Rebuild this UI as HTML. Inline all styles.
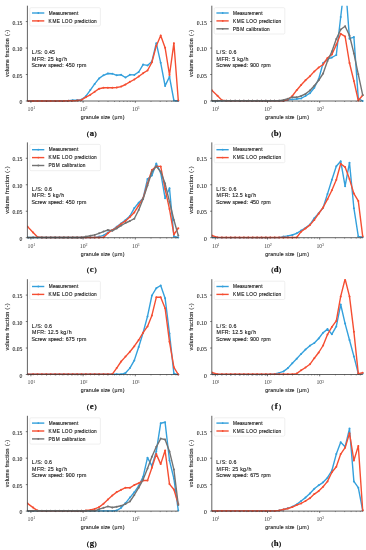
<!DOCTYPE html>
<html><head><meta charset="utf-8"><style>
html,body{margin:0;padding:0;background:#fff;width:366px;height:550px;overflow:hidden}
svg{display:block;will-change:transform}
text{font-family:"Liberation Sans",sans-serif;fill:#222}
.lg,.an,.xl,.yl{stroke:#222;stroke-width:0.15px}
.cap{stroke:#111;stroke-width:0.2px}
.yt{font-family:"Liberation Serif",serif;font-size:5.7px;text-anchor:end;fill:#2a2a2a;stroke:#2a2a2a;stroke-width:0.1px}
.xt{font-family:"Liberation Serif",serif;font-size:5.8px;text-anchor:middle;fill:#444}
.sup{font-size:4.0px}
.xl{fill:#333}
.yl{fill:#333}
.lg{fill:#222}
.an{fill:#222}
.cap{font-family:"Liberation Serif",serif;font-weight:bold;font-size:7.2px;text-anchor:middle;fill:#111}
</style></head><body>
<svg width="366" height="550" viewBox="0 0 366 550">
<clipPath id="ca"><rect x="27.4" y="5.7" width="152.9" height="98.3"/></clipPath>
<g clip-path="url(#ca)"><polyline points="27.4,101 33.1,101 37.5,101 41.9,101 46.3,101 50.7,101 55.1,101 59.5,101 63.9,101 68.3,100.7 72.7,100.3 77.1,100 81.5,99.6 85.9,96.2 90.3,90.1 94.7,83.9 99.1,78.4 103.5,75.3 107.9,73.5 112.3,73.7 116.7,75.3 121.1,74.8 125.5,77.5 129.9,74.8 134.3,74.9 138.7,72 143.1,64.6 147.5,65.4 151.9,61.4 156.3,43.2 160.7,62.8 165.1,85.9 169.5,76.8 173.9,100.5 178.3,101" fill="none" stroke="#34a0dc" stroke-width="1.4" stroke-linejoin="round"/>
<circle cx="27.4" cy="101" r="1.0" fill="#34a0dc"/><circle cx="33.1" cy="101" r="1.0" fill="#34a0dc"/><circle cx="37.5" cy="101" r="1.0" fill="#34a0dc"/><circle cx="41.9" cy="101" r="1.0" fill="#34a0dc"/><circle cx="46.3" cy="101" r="1.0" fill="#34a0dc"/><circle cx="50.7" cy="101" r="1.0" fill="#34a0dc"/><circle cx="55.1" cy="101" r="1.0" fill="#34a0dc"/><circle cx="59.5" cy="101" r="1.0" fill="#34a0dc"/><circle cx="63.9" cy="101" r="1.0" fill="#34a0dc"/><circle cx="68.3" cy="100.7" r="1.0" fill="#34a0dc"/><circle cx="72.7" cy="100.3" r="1.0" fill="#34a0dc"/><circle cx="77.1" cy="100" r="1.0" fill="#34a0dc"/><circle cx="81.5" cy="99.6" r="1.0" fill="#34a0dc"/><circle cx="85.9" cy="96.2" r="1.0" fill="#34a0dc"/><circle cx="90.3" cy="90.1" r="1.0" fill="#34a0dc"/><circle cx="94.7" cy="83.9" r="1.0" fill="#34a0dc"/><circle cx="99.1" cy="78.4" r="1.0" fill="#34a0dc"/><circle cx="103.5" cy="75.3" r="1.0" fill="#34a0dc"/><circle cx="107.9" cy="73.5" r="1.0" fill="#34a0dc"/><circle cx="112.3" cy="73.7" r="1.0" fill="#34a0dc"/><circle cx="116.7" cy="75.3" r="1.0" fill="#34a0dc"/><circle cx="121.1" cy="74.8" r="1.0" fill="#34a0dc"/><circle cx="125.5" cy="77.5" r="1.0" fill="#34a0dc"/><circle cx="129.9" cy="74.8" r="1.0" fill="#34a0dc"/><circle cx="134.3" cy="74.9" r="1.0" fill="#34a0dc"/><circle cx="138.7" cy="72" r="1.0" fill="#34a0dc"/><circle cx="143.1" cy="64.6" r="1.0" fill="#34a0dc"/><circle cx="147.5" cy="65.4" r="1.0" fill="#34a0dc"/><circle cx="151.9" cy="61.4" r="1.0" fill="#34a0dc"/><circle cx="156.3" cy="43.2" r="1.0" fill="#34a0dc"/><circle cx="160.7" cy="62.8" r="1.0" fill="#34a0dc"/><circle cx="165.1" cy="85.9" r="1.0" fill="#34a0dc"/><circle cx="169.5" cy="76.8" r="1.0" fill="#34a0dc"/><circle cx="173.9" cy="100.5" r="1.0" fill="#34a0dc"/><circle cx="178.3" cy="101" r="1.0" fill="#34a0dc"/></g>
<g clip-path="url(#ca)"><polyline points="27.4,101 33.1,101 37.5,101 41.9,101 46.3,101 50.7,101 55.1,101 59.5,101 63.9,101 68.3,100.8 72.7,100.7 77.1,100.5 81.5,99.9 85.9,97.2 90.3,94.8 94.7,91.7 99.1,88.7 103.5,87.7 107.9,87.7 112.3,87.7 116.7,87.5 121.1,86.6 125.5,84.5 129.9,81.8 134.3,79.5 138.7,76.5 143.1,73.2 147.5,70.5 151.9,62.3 156.3,45.9 160.7,35.5 165.1,47.7 169.5,75 173.9,43.2 178.3,100.5" fill="none" stroke="#f54e32" stroke-width="1.4" stroke-linejoin="round"/>
<circle cx="27.4" cy="101" r="1.0" fill="#f54e32"/><circle cx="33.1" cy="101" r="1.0" fill="#f54e32"/><circle cx="37.5" cy="101" r="1.0" fill="#f54e32"/><circle cx="41.9" cy="101" r="1.0" fill="#f54e32"/><circle cx="46.3" cy="101" r="1.0" fill="#f54e32"/><circle cx="50.7" cy="101" r="1.0" fill="#f54e32"/><circle cx="55.1" cy="101" r="1.0" fill="#f54e32"/><circle cx="59.5" cy="101" r="1.0" fill="#f54e32"/><circle cx="63.9" cy="101" r="1.0" fill="#f54e32"/><circle cx="68.3" cy="100.8" r="1.0" fill="#f54e32"/><circle cx="72.7" cy="100.7" r="1.0" fill="#f54e32"/><circle cx="77.1" cy="100.5" r="1.0" fill="#f54e32"/><circle cx="81.5" cy="99.9" r="1.0" fill="#f54e32"/><circle cx="85.9" cy="97.2" r="1.0" fill="#f54e32"/><circle cx="90.3" cy="94.8" r="1.0" fill="#f54e32"/><circle cx="94.7" cy="91.7" r="1.0" fill="#f54e32"/><circle cx="99.1" cy="88.7" r="1.0" fill="#f54e32"/><circle cx="103.5" cy="87.7" r="1.0" fill="#f54e32"/><circle cx="107.9" cy="87.7" r="1.0" fill="#f54e32"/><circle cx="112.3" cy="87.7" r="1.0" fill="#f54e32"/><circle cx="116.7" cy="87.5" r="1.0" fill="#f54e32"/><circle cx="121.1" cy="86.6" r="1.0" fill="#f54e32"/><circle cx="125.5" cy="84.5" r="1.0" fill="#f54e32"/><circle cx="129.9" cy="81.8" r="1.0" fill="#f54e32"/><circle cx="134.3" cy="79.5" r="1.0" fill="#f54e32"/><circle cx="138.7" cy="76.5" r="1.0" fill="#f54e32"/><circle cx="143.1" cy="73.2" r="1.0" fill="#f54e32"/><circle cx="147.5" cy="70.5" r="1.0" fill="#f54e32"/><circle cx="151.9" cy="62.3" r="1.0" fill="#f54e32"/><circle cx="156.3" cy="45.9" r="1.0" fill="#f54e32"/><circle cx="160.7" cy="35.5" r="1.0" fill="#f54e32"/><circle cx="165.1" cy="47.7" r="1.0" fill="#f54e32"/><circle cx="169.5" cy="75" r="1.0" fill="#f54e32"/><circle cx="173.9" cy="43.2" r="1.0" fill="#f54e32"/><circle cx="178.3" cy="100.5" r="1.0" fill="#f54e32"/></g>
<path d="M27.4 5.7V101H178.3" fill="none" stroke="#3a3a3a" stroke-width="0.8"/>
<path d="M25.8 101H27.4" stroke="#3a3a3a" stroke-width="0.7"/>
<text x="22.4" y="104" class="yt">0</text>
<path d="M25.8 74.53H27.4" stroke="#3a3a3a" stroke-width="0.7"/>
<text x="22.4" y="77.53" class="yt">0.05</text>
<path d="M25.8 48.06H27.4" stroke="#3a3a3a" stroke-width="0.7"/>
<text x="22.4" y="51.06" class="yt">0.10</text>
<path d="M25.8 21.58H27.4" stroke="#3a3a3a" stroke-width="0.7"/>
<text x="22.4" y="24.58" class="yt">0.15</text>
<path d="M30.9 101V102.8" stroke="#3a3a3a" stroke-width="0.7"/>
<text x="31.4" y="110.9" class="xt">10<tspan dy="-1.7" dx="-0.2" class="sup">1</tspan></text>
<path d="M83.1 101V102.8" stroke="#3a3a3a" stroke-width="0.7"/>
<text x="83.6" y="110.9" class="xt">10<tspan dy="-1.7" dx="-0.2" class="sup">2</tspan></text>
<path d="M135.3 101V102.8" stroke="#3a3a3a" stroke-width="0.7"/>
<text x="135.8" y="110.9" class="xt">10<tspan dy="-1.7" dx="-0.2" class="sup">3</tspan></text>
<path d="M28.51 101V102" stroke="#3a3a3a" stroke-width="0.5"/>
<path d="M46.61 101V102" stroke="#3a3a3a" stroke-width="0.5"/>
<path d="M55.81 101V102" stroke="#3a3a3a" stroke-width="0.5"/>
<path d="M62.33 101V102" stroke="#3a3a3a" stroke-width="0.5"/>
<path d="M67.39 101V102" stroke="#3a3a3a" stroke-width="0.5"/>
<path d="M71.52 101V102" stroke="#3a3a3a" stroke-width="0.5"/>
<path d="M75.01 101V102" stroke="#3a3a3a" stroke-width="0.5"/>
<path d="M78.04 101V102" stroke="#3a3a3a" stroke-width="0.5"/>
<path d="M80.71 101V102" stroke="#3a3a3a" stroke-width="0.5"/>
<path d="M98.81 101V102" stroke="#3a3a3a" stroke-width="0.5"/>
<path d="M108.01 101V102" stroke="#3a3a3a" stroke-width="0.5"/>
<path d="M114.53 101V102" stroke="#3a3a3a" stroke-width="0.5"/>
<path d="M119.59 101V102" stroke="#3a3a3a" stroke-width="0.5"/>
<path d="M123.72 101V102" stroke="#3a3a3a" stroke-width="0.5"/>
<path d="M127.21 101V102" stroke="#3a3a3a" stroke-width="0.5"/>
<path d="M130.24 101V102" stroke="#3a3a3a" stroke-width="0.5"/>
<path d="M132.91 101V102" stroke="#3a3a3a" stroke-width="0.5"/>
<path d="M151.01 101V102" stroke="#3a3a3a" stroke-width="0.5"/>
<path d="M160.21 101V102" stroke="#3a3a3a" stroke-width="0.5"/>
<path d="M166.73 101V102" stroke="#3a3a3a" stroke-width="0.5"/>
<path d="M171.79 101V102" stroke="#3a3a3a" stroke-width="0.5"/>
<path d="M175.92 101V102" stroke="#3a3a3a" stroke-width="0.5"/>
<text transform="translate(102.8,118.8) scale(0.88,1.0)" x="-24.98 -21.44 -19.31 -15.9 -12.38 -8.8 -7.47 -3.99 -2.22 0.74 2.2 5.03 8.51 10.81 13.32 17.16 22.69" y="0" class="xl" style="font-size:6.0px">granule size (µm)</text>
<text transform="translate(8.9,53.35) rotate(-90) scale(0.88,1.0)" x="-26.94 -23.83 -20.31 -18.73 -15.09 -10.04 -6.56 -4.38 -2.34 -0.2 3.12 6.53 8.75 10.26 13.73 17.46 19.76 22.22 24.68" y="0" class="yl" style="font-size:6.0px">volume fraction (-)</text>
<text transform="translate(31.7,54.1) scale(0.88,1.0)" x="0.16 4.25 6.38 10.37 12.44 14.42 17.88 19.68 23.06" y="0" class="an" style="font-size:6.0px">L/S: 0.45</text>
<text transform="translate(31.7,60.72) scale(0.88,1.0)" x="0.46 6.01 9.78 14.24 16.3 18.28 21.67 25.32 27.43 30.6 34.55 36.88" y="0" class="an" style="font-size:6.0px">MFR: 25 kg/h</text>
<text transform="translate(31.7,67.34) scale(0.88,1.0)" x="-0.12 3.76 6.92 8.91 12.22 16.99 18.74 21.61 24.86 27.87 31.11 34.64 36.7 38.68 42.06 45.44 49.1 51.21 53.45 57.05" y="0" class="an" style="font-size:6.0px">Screw speed: 450 rpm</text>
<rect x="29.8" y="7.7" width="70.6" height="18.3" rx="1.2" fill="#fff" fill-opacity="0.8" stroke="#e4e4e4" stroke-width="0.6"/>
<path d="M32 13H44.3" stroke="#34a0dc" stroke-width="1.4"/>
<circle cx="38.3" cy="13" r="0.9" fill="#34a0dc"/>
<text transform="translate(48.3,14.75) scale(0.88,1.0)" x="0.44 5.23 8.07 10.87 13.48 16.72 18.53 21.58 26.12 29.07 32.52" y="0" class="lg" style="font-size:5.4px">Measurement</text>
<path d="M32 20.9H44.3" stroke="#f54e32" stroke-width="1.4"/>
<circle cx="38.3" cy="20.9" r="0.9" fill="#f54e32"/>
<text transform="translate(48.3,22.65) scale(0.88,1.0)" x="0.33 4.69 9.66 13.56 15.5 18.82 23.34 27.96 29.82 33.06 34.87 37.82 41.04 42.38 45.45 47.44 48.81 51.93" y="0" class="lg" style="font-size:5.4px">KME LOO prediction</text>
<text x="87.9" y="135.6" class="cap" style="font-size:6.6px">(</text><text transform="translate(91.8,135.6) scale(1.2,1)" class="cap" style="font-size:7.25px">a</text><text x="95.7" y="135.6" class="cap" style="font-size:6.6px">)</text>
<clipPath id="cb"><rect x="211.8" y="5.7" width="152.9" height="98.3"/></clipPath>
<g clip-path="url(#cb)"><polyline points="211.8,100.8 217.5,100.8 221.9,100.8 226.3,100.8 230.7,100.8 235.1,100.8 239.5,100.8 243.9,100.8 248.3,100.8 252.7,100.8 257.1,100.8 261.5,100.8 265.9,100.8 270.3,100.8 274.7,100.8 279.1,100.8 283.5,100.8 287.9,99.9 292.3,99.4 296.7,99 301.1,98.4 305.5,96 309.9,93.2 314.3,87.8 318.7,79 323.1,63 327.5,59.2 331.9,57.5 336.3,55 340.7,17 345.1,-20 349.5,38.7 353.9,37.1 358.3,98.5 362.7,101" fill="none" stroke="#34a0dc" stroke-width="1.4" stroke-linejoin="round"/>
<circle cx="211.8" cy="100.8" r="1.0" fill="#34a0dc"/><circle cx="217.5" cy="100.8" r="1.0" fill="#34a0dc"/><circle cx="221.9" cy="100.8" r="1.0" fill="#34a0dc"/><circle cx="226.3" cy="100.8" r="1.0" fill="#34a0dc"/><circle cx="230.7" cy="100.8" r="1.0" fill="#34a0dc"/><circle cx="235.1" cy="100.8" r="1.0" fill="#34a0dc"/><circle cx="239.5" cy="100.8" r="1.0" fill="#34a0dc"/><circle cx="243.9" cy="100.8" r="1.0" fill="#34a0dc"/><circle cx="248.3" cy="100.8" r="1.0" fill="#34a0dc"/><circle cx="252.7" cy="100.8" r="1.0" fill="#34a0dc"/><circle cx="257.1" cy="100.8" r="1.0" fill="#34a0dc"/><circle cx="261.5" cy="100.8" r="1.0" fill="#34a0dc"/><circle cx="265.9" cy="100.8" r="1.0" fill="#34a0dc"/><circle cx="270.3" cy="100.8" r="1.0" fill="#34a0dc"/><circle cx="274.7" cy="100.8" r="1.0" fill="#34a0dc"/><circle cx="279.1" cy="100.8" r="1.0" fill="#34a0dc"/><circle cx="283.5" cy="100.8" r="1.0" fill="#34a0dc"/><circle cx="287.9" cy="99.9" r="1.0" fill="#34a0dc"/><circle cx="292.3" cy="99.4" r="1.0" fill="#34a0dc"/><circle cx="296.7" cy="99" r="1.0" fill="#34a0dc"/><circle cx="301.1" cy="98.4" r="1.0" fill="#34a0dc"/><circle cx="305.5" cy="96" r="1.0" fill="#34a0dc"/><circle cx="309.9" cy="93.2" r="1.0" fill="#34a0dc"/><circle cx="314.3" cy="87.8" r="1.0" fill="#34a0dc"/><circle cx="318.7" cy="79" r="1.0" fill="#34a0dc"/><circle cx="323.1" cy="63" r="1.0" fill="#34a0dc"/><circle cx="327.5" cy="59.2" r="1.0" fill="#34a0dc"/><circle cx="331.9" cy="57.5" r="1.0" fill="#34a0dc"/><circle cx="336.3" cy="55" r="1.0" fill="#34a0dc"/><circle cx="340.7" cy="17" r="1.0" fill="#34a0dc"/><circle cx="345.1" cy="-20" r="1.0" fill="#34a0dc"/><circle cx="349.5" cy="38.7" r="1.0" fill="#34a0dc"/><circle cx="353.9" cy="37.1" r="1.0" fill="#34a0dc"/><circle cx="358.3" cy="98.5" r="1.0" fill="#34a0dc"/><circle cx="362.7" cy="101" r="1.0" fill="#34a0dc"/></g>
<g clip-path="url(#cb)"><polyline points="211.8,90.2 217.5,95.7 221.9,100.2 226.3,100.8 230.7,100.8 235.1,100.8 239.5,100.8 243.9,100.8 248.3,100.8 252.7,100.8 257.1,100.8 261.5,100.8 265.9,100.8 270.3,100.8 274.7,100.8 279.1,100.8 283.5,100.7 287.9,99.5 292.3,96 296.7,90.2 301.1,85 305.5,80.3 309.9,76.2 314.3,71.4 318.7,67.5 323.1,64.5 327.5,58 331.9,54.4 336.3,44.8 340.7,33.8 345.1,36.4 349.5,63 353.9,81 358.3,100.5 362.7,95.2" fill="none" stroke="#f54e32" stroke-width="1.4" stroke-linejoin="round"/>
<circle cx="211.8" cy="90.2" r="1.0" fill="#f54e32"/><circle cx="217.5" cy="95.7" r="1.0" fill="#f54e32"/><circle cx="221.9" cy="100.2" r="1.0" fill="#f54e32"/><circle cx="226.3" cy="100.8" r="1.0" fill="#f54e32"/><circle cx="230.7" cy="100.8" r="1.0" fill="#f54e32"/><circle cx="235.1" cy="100.8" r="1.0" fill="#f54e32"/><circle cx="239.5" cy="100.8" r="1.0" fill="#f54e32"/><circle cx="243.9" cy="100.8" r="1.0" fill="#f54e32"/><circle cx="248.3" cy="100.8" r="1.0" fill="#f54e32"/><circle cx="252.7" cy="100.8" r="1.0" fill="#f54e32"/><circle cx="257.1" cy="100.8" r="1.0" fill="#f54e32"/><circle cx="261.5" cy="100.8" r="1.0" fill="#f54e32"/><circle cx="265.9" cy="100.8" r="1.0" fill="#f54e32"/><circle cx="270.3" cy="100.8" r="1.0" fill="#f54e32"/><circle cx="274.7" cy="100.8" r="1.0" fill="#f54e32"/><circle cx="279.1" cy="100.8" r="1.0" fill="#f54e32"/><circle cx="283.5" cy="100.7" r="1.0" fill="#f54e32"/><circle cx="287.9" cy="99.5" r="1.0" fill="#f54e32"/><circle cx="292.3" cy="96" r="1.0" fill="#f54e32"/><circle cx="296.7" cy="90.2" r="1.0" fill="#f54e32"/><circle cx="301.1" cy="85" r="1.0" fill="#f54e32"/><circle cx="305.5" cy="80.3" r="1.0" fill="#f54e32"/><circle cx="309.9" cy="76.2" r="1.0" fill="#f54e32"/><circle cx="314.3" cy="71.4" r="1.0" fill="#f54e32"/><circle cx="318.7" cy="67.5" r="1.0" fill="#f54e32"/><circle cx="323.1" cy="64.5" r="1.0" fill="#f54e32"/><circle cx="327.5" cy="58" r="1.0" fill="#f54e32"/><circle cx="331.9" cy="54.4" r="1.0" fill="#f54e32"/><circle cx="336.3" cy="44.8" r="1.0" fill="#f54e32"/><circle cx="340.7" cy="33.8" r="1.0" fill="#f54e32"/><circle cx="345.1" cy="36.4" r="1.0" fill="#f54e32"/><circle cx="349.5" cy="63" r="1.0" fill="#f54e32"/><circle cx="353.9" cy="81" r="1.0" fill="#f54e32"/><circle cx="358.3" cy="100.5" r="1.0" fill="#f54e32"/><circle cx="362.7" cy="95.2" r="1.0" fill="#f54e32"/></g>
<g clip-path="url(#cb)"><polyline points="211.8,100.8 217.5,100.8 221.9,100.8 226.3,100.8 230.7,100.8 235.1,100.8 239.5,100.8 243.9,100.8 248.3,100.8 252.7,100.8 257.1,100.8 261.5,100.8 265.9,100.8 270.3,100.8 274.7,100.8 279.1,100.8 283.5,100 287.9,98.7 292.3,97.3 296.7,97.3 301.1,96 305.5,93.9 309.9,90.5 314.3,85.7 318.7,80.3 323.1,73.5 327.5,61 331.9,51.5 336.3,39 340.7,29.5 345.1,26.2 349.5,35.5 353.9,53.4 358.3,74.3 362.7,95.2" fill="none" stroke="#737373" stroke-width="1.4" stroke-linejoin="round"/>
<circle cx="211.8" cy="100.8" r="1.0" fill="#737373"/><circle cx="217.5" cy="100.8" r="1.0" fill="#737373"/><circle cx="221.9" cy="100.8" r="1.0" fill="#737373"/><circle cx="226.3" cy="100.8" r="1.0" fill="#737373"/><circle cx="230.7" cy="100.8" r="1.0" fill="#737373"/><circle cx="235.1" cy="100.8" r="1.0" fill="#737373"/><circle cx="239.5" cy="100.8" r="1.0" fill="#737373"/><circle cx="243.9" cy="100.8" r="1.0" fill="#737373"/><circle cx="248.3" cy="100.8" r="1.0" fill="#737373"/><circle cx="252.7" cy="100.8" r="1.0" fill="#737373"/><circle cx="257.1" cy="100.8" r="1.0" fill="#737373"/><circle cx="261.5" cy="100.8" r="1.0" fill="#737373"/><circle cx="265.9" cy="100.8" r="1.0" fill="#737373"/><circle cx="270.3" cy="100.8" r="1.0" fill="#737373"/><circle cx="274.7" cy="100.8" r="1.0" fill="#737373"/><circle cx="279.1" cy="100.8" r="1.0" fill="#737373"/><circle cx="283.5" cy="100" r="1.0" fill="#737373"/><circle cx="287.9" cy="98.7" r="1.0" fill="#737373"/><circle cx="292.3" cy="97.3" r="1.0" fill="#737373"/><circle cx="296.7" cy="97.3" r="1.0" fill="#737373"/><circle cx="301.1" cy="96" r="1.0" fill="#737373"/><circle cx="305.5" cy="93.9" r="1.0" fill="#737373"/><circle cx="309.9" cy="90.5" r="1.0" fill="#737373"/><circle cx="314.3" cy="85.7" r="1.0" fill="#737373"/><circle cx="318.7" cy="80.3" r="1.0" fill="#737373"/><circle cx="323.1" cy="73.5" r="1.0" fill="#737373"/><circle cx="327.5" cy="61" r="1.0" fill="#737373"/><circle cx="331.9" cy="51.5" r="1.0" fill="#737373"/><circle cx="336.3" cy="39" r="1.0" fill="#737373"/><circle cx="340.7" cy="29.5" r="1.0" fill="#737373"/><circle cx="345.1" cy="26.2" r="1.0" fill="#737373"/><circle cx="349.5" cy="35.5" r="1.0" fill="#737373"/><circle cx="353.9" cy="53.4" r="1.0" fill="#737373"/><circle cx="358.3" cy="74.3" r="1.0" fill="#737373"/><circle cx="362.7" cy="95.2" r="1.0" fill="#737373"/></g>
<path d="M211.8 5.7V101H362.7" fill="none" stroke="#3a3a3a" stroke-width="0.8"/>
<path d="M210.2 101H211.8" stroke="#3a3a3a" stroke-width="0.7"/>
<text x="206.8" y="104" class="yt">0</text>
<path d="M210.2 74.53H211.8" stroke="#3a3a3a" stroke-width="0.7"/>
<text x="206.8" y="77.53" class="yt">0.05</text>
<path d="M210.2 48.06H211.8" stroke="#3a3a3a" stroke-width="0.7"/>
<text x="206.8" y="51.06" class="yt">0.10</text>
<path d="M210.2 21.58H211.8" stroke="#3a3a3a" stroke-width="0.7"/>
<text x="206.8" y="24.58" class="yt">0.15</text>
<path d="M215.3 101V102.8" stroke="#3a3a3a" stroke-width="0.7"/>
<text x="215.8" y="110.9" class="xt">10<tspan dy="-1.7" dx="-0.2" class="sup">1</tspan></text>
<path d="M267.5 101V102.8" stroke="#3a3a3a" stroke-width="0.7"/>
<text x="268" y="110.9" class="xt">10<tspan dy="-1.7" dx="-0.2" class="sup">2</tspan></text>
<path d="M319.7 101V102.8" stroke="#3a3a3a" stroke-width="0.7"/>
<text x="320.2" y="110.9" class="xt">10<tspan dy="-1.7" dx="-0.2" class="sup">3</tspan></text>
<path d="M212.91 101V102" stroke="#3a3a3a" stroke-width="0.5"/>
<path d="M231.01 101V102" stroke="#3a3a3a" stroke-width="0.5"/>
<path d="M240.21 101V102" stroke="#3a3a3a" stroke-width="0.5"/>
<path d="M246.73 101V102" stroke="#3a3a3a" stroke-width="0.5"/>
<path d="M251.79 101V102" stroke="#3a3a3a" stroke-width="0.5"/>
<path d="M255.92 101V102" stroke="#3a3a3a" stroke-width="0.5"/>
<path d="M259.41 101V102" stroke="#3a3a3a" stroke-width="0.5"/>
<path d="M262.44 101V102" stroke="#3a3a3a" stroke-width="0.5"/>
<path d="M265.11 101V102" stroke="#3a3a3a" stroke-width="0.5"/>
<path d="M283.21 101V102" stroke="#3a3a3a" stroke-width="0.5"/>
<path d="M292.41 101V102" stroke="#3a3a3a" stroke-width="0.5"/>
<path d="M298.93 101V102" stroke="#3a3a3a" stroke-width="0.5"/>
<path d="M303.99 101V102" stroke="#3a3a3a" stroke-width="0.5"/>
<path d="M308.12 101V102" stroke="#3a3a3a" stroke-width="0.5"/>
<path d="M311.61 101V102" stroke="#3a3a3a" stroke-width="0.5"/>
<path d="M314.64 101V102" stroke="#3a3a3a" stroke-width="0.5"/>
<path d="M317.31 101V102" stroke="#3a3a3a" stroke-width="0.5"/>
<path d="M335.41 101V102" stroke="#3a3a3a" stroke-width="0.5"/>
<path d="M344.61 101V102" stroke="#3a3a3a" stroke-width="0.5"/>
<path d="M351.13 101V102" stroke="#3a3a3a" stroke-width="0.5"/>
<path d="M356.19 101V102" stroke="#3a3a3a" stroke-width="0.5"/>
<path d="M360.32 101V102" stroke="#3a3a3a" stroke-width="0.5"/>
<text transform="translate(287.2,118.8) scale(0.88,1.0)" x="-24.98 -21.44 -19.31 -15.9 -12.38 -8.8 -7.47 -3.99 -2.22 0.74 2.2 5.03 8.51 10.81 13.32 17.16 22.69" y="0" class="xl" style="font-size:6.0px">granule size (µm)</text>
<text transform="translate(193.3,53.35) rotate(-90) scale(0.88,1.0)" x="-26.94 -23.83 -20.31 -18.73 -15.09 -10.04 -6.56 -4.38 -2.34 -0.2 3.12 6.53 8.75 10.26 13.73 17.46 19.76 22.22 24.68" y="0" class="yl" style="font-size:6.0px">volume fraction (-)</text>
<text transform="translate(216.1,54.1) scale(0.88,1.0)" x="0.16 4.25 6.38 10.37 12.44 14.42 17.88 19.68" y="0" class="an" style="font-size:6.0px">L/S: 0.6</text>
<text transform="translate(216.1,60.72) scale(0.88,1.0)" x="0.46 6.01 9.78 14.24 16.3 18.28 21.94 24.05 27.22 31.17 33.5" y="0" class="an" style="font-size:6.0px">MFR: 5 kg/h</text>
<text transform="translate(216.1,67.34) scale(0.88,1.0)" x="-0.12 3.76 6.92 8.91 12.22 16.99 18.74 21.61 24.86 27.87 31.11 34.64 36.7 38.68 42.06 45.44 49.1 51.21 53.45 57.05" y="0" class="an" style="font-size:6.0px">Screw speed: 900 rpm</text>
<rect x="214.2" y="7.7" width="70.6" height="26.3" rx="1.2" fill="#fff" fill-opacity="0.8" stroke="#e4e4e4" stroke-width="0.6"/>
<path d="M216.4 13H228.7" stroke="#34a0dc" stroke-width="1.4"/>
<circle cx="222.7" cy="13" r="0.9" fill="#34a0dc"/>
<text transform="translate(232.7,14.75) scale(0.88,1.0)" x="0.44 5.23 8.07 10.87 13.48 16.72 18.53 21.58 26.12 29.07 32.52" y="0" class="lg" style="font-size:5.4px">Measurement</text>
<path d="M216.4 20.9H228.7" stroke="#f54e32" stroke-width="1.4"/>
<circle cx="222.7" cy="20.9" r="0.9" fill="#f54e32"/>
<text transform="translate(232.7,22.65) scale(0.88,1.0)" x="0.33 4.69 9.66 13.56 15.5 18.82 23.34 27.96 29.82 33.06 34.87 37.82 41.04 42.38 45.45 47.44 48.81 51.93" y="0" class="lg" style="font-size:5.4px">KME LOO prediction</text>
<path d="M216.4 28.8H228.7" stroke="#737373" stroke-width="1.4"/>
<circle cx="222.7" cy="28.8" r="0.9" fill="#737373"/>
<text transform="translate(232.7,30.55) scale(0.88,1.0)" x="0.16 4.17 8.45 13.65 15.44 18.13 21.24 22.7 24.12 27.36 29.28 32.62 34.61 35.97 39.09" y="0" class="lg" style="font-size:5.4px">PBM calibration</text>
<text x="272.3" y="135.6" class="cap" style="font-size:6.6px">(</text><text transform="translate(276.2,135.6) scale(1.2,1)" class="cap" style="font-size:7.25px">b</text><text x="280.1" y="135.6" class="cap" style="font-size:6.6px">)</text>
<clipPath id="cc"><rect x="27.4" y="142.4" width="152.9" height="98.3"/></clipPath>
<g clip-path="url(#cc)"><polyline points="27.4,237.5 33.1,237.5 37.5,237.5 41.9,237.5 46.3,237.5 50.7,237.5 55.1,237.5 59.5,237.5 63.9,237.5 68.3,237.5 72.7,237.5 77.1,237.5 81.5,237.5 85.9,237.5 90.3,237.5 94.7,237.5 99.1,236.6 103.5,235.4 107.9,232.5 112.3,230 116.7,226.7 121.1,223.4 125.5,220.1 129.9,216.1 134.3,208.1 138.7,202.7 143.1,198.2 147.5,179.1 151.9,175.5 156.3,163.6 160.7,172.7 165.1,198.2 169.5,188.2 173.9,236.4 178.3,237.4" fill="none" stroke="#34a0dc" stroke-width="1.4" stroke-linejoin="round"/>
<circle cx="27.4" cy="237.5" r="1.0" fill="#34a0dc"/><circle cx="33.1" cy="237.5" r="1.0" fill="#34a0dc"/><circle cx="37.5" cy="237.5" r="1.0" fill="#34a0dc"/><circle cx="41.9" cy="237.5" r="1.0" fill="#34a0dc"/><circle cx="46.3" cy="237.5" r="1.0" fill="#34a0dc"/><circle cx="50.7" cy="237.5" r="1.0" fill="#34a0dc"/><circle cx="55.1" cy="237.5" r="1.0" fill="#34a0dc"/><circle cx="59.5" cy="237.5" r="1.0" fill="#34a0dc"/><circle cx="63.9" cy="237.5" r="1.0" fill="#34a0dc"/><circle cx="68.3" cy="237.5" r="1.0" fill="#34a0dc"/><circle cx="72.7" cy="237.5" r="1.0" fill="#34a0dc"/><circle cx="77.1" cy="237.5" r="1.0" fill="#34a0dc"/><circle cx="81.5" cy="237.5" r="1.0" fill="#34a0dc"/><circle cx="85.9" cy="237.5" r="1.0" fill="#34a0dc"/><circle cx="90.3" cy="237.5" r="1.0" fill="#34a0dc"/><circle cx="94.7" cy="237.5" r="1.0" fill="#34a0dc"/><circle cx="99.1" cy="236.6" r="1.0" fill="#34a0dc"/><circle cx="103.5" cy="235.4" r="1.0" fill="#34a0dc"/><circle cx="107.9" cy="232.5" r="1.0" fill="#34a0dc"/><circle cx="112.3" cy="230" r="1.0" fill="#34a0dc"/><circle cx="116.7" cy="226.7" r="1.0" fill="#34a0dc"/><circle cx="121.1" cy="223.4" r="1.0" fill="#34a0dc"/><circle cx="125.5" cy="220.1" r="1.0" fill="#34a0dc"/><circle cx="129.9" cy="216.1" r="1.0" fill="#34a0dc"/><circle cx="134.3" cy="208.1" r="1.0" fill="#34a0dc"/><circle cx="138.7" cy="202.7" r="1.0" fill="#34a0dc"/><circle cx="143.1" cy="198.2" r="1.0" fill="#34a0dc"/><circle cx="147.5" cy="179.1" r="1.0" fill="#34a0dc"/><circle cx="151.9" cy="175.5" r="1.0" fill="#34a0dc"/><circle cx="156.3" cy="163.6" r="1.0" fill="#34a0dc"/><circle cx="160.7" cy="172.7" r="1.0" fill="#34a0dc"/><circle cx="165.1" cy="198.2" r="1.0" fill="#34a0dc"/><circle cx="169.5" cy="188.2" r="1.0" fill="#34a0dc"/><circle cx="173.9" cy="236.4" r="1.0" fill="#34a0dc"/><circle cx="178.3" cy="237.4" r="1.0" fill="#34a0dc"/></g>
<g clip-path="url(#cc)"><polyline points="27.4,226.4 33.1,232.5 37.5,237 41.9,237.5 46.3,237.5 50.7,237.5 55.1,237.5 59.5,237.5 63.9,237.5 68.3,237.5 72.7,237.5 77.1,237.5 81.5,237.5 85.9,237.5 90.3,237.5 94.7,237.5 99.1,237.5 103.5,237.4 107.9,233.3 112.3,230 116.7,227.5 121.1,223.9 125.5,221 129.9,216.9 134.3,212.4 138.7,205.5 143.1,198.2 147.5,183.6 151.9,170 156.3,166.4 160.7,166.4 165.1,189.1 169.5,209.1 173.9,234.5 178.3,228.2" fill="none" stroke="#f54e32" stroke-width="1.4" stroke-linejoin="round"/>
<circle cx="27.4" cy="226.4" r="1.0" fill="#f54e32"/><circle cx="33.1" cy="232.5" r="1.0" fill="#f54e32"/><circle cx="37.5" cy="237" r="1.0" fill="#f54e32"/><circle cx="41.9" cy="237.5" r="1.0" fill="#f54e32"/><circle cx="46.3" cy="237.5" r="1.0" fill="#f54e32"/><circle cx="50.7" cy="237.5" r="1.0" fill="#f54e32"/><circle cx="55.1" cy="237.5" r="1.0" fill="#f54e32"/><circle cx="59.5" cy="237.5" r="1.0" fill="#f54e32"/><circle cx="63.9" cy="237.5" r="1.0" fill="#f54e32"/><circle cx="68.3" cy="237.5" r="1.0" fill="#f54e32"/><circle cx="72.7" cy="237.5" r="1.0" fill="#f54e32"/><circle cx="77.1" cy="237.5" r="1.0" fill="#f54e32"/><circle cx="81.5" cy="237.5" r="1.0" fill="#f54e32"/><circle cx="85.9" cy="237.5" r="1.0" fill="#f54e32"/><circle cx="90.3" cy="237.5" r="1.0" fill="#f54e32"/><circle cx="94.7" cy="237.5" r="1.0" fill="#f54e32"/><circle cx="99.1" cy="237.5" r="1.0" fill="#f54e32"/><circle cx="103.5" cy="237.4" r="1.0" fill="#f54e32"/><circle cx="107.9" cy="233.3" r="1.0" fill="#f54e32"/><circle cx="112.3" cy="230" r="1.0" fill="#f54e32"/><circle cx="116.7" cy="227.5" r="1.0" fill="#f54e32"/><circle cx="121.1" cy="223.9" r="1.0" fill="#f54e32"/><circle cx="125.5" cy="221" r="1.0" fill="#f54e32"/><circle cx="129.9" cy="216.9" r="1.0" fill="#f54e32"/><circle cx="134.3" cy="212.4" r="1.0" fill="#f54e32"/><circle cx="138.7" cy="205.5" r="1.0" fill="#f54e32"/><circle cx="143.1" cy="198.2" r="1.0" fill="#f54e32"/><circle cx="147.5" cy="183.6" r="1.0" fill="#f54e32"/><circle cx="151.9" cy="170" r="1.0" fill="#f54e32"/><circle cx="156.3" cy="166.4" r="1.0" fill="#f54e32"/><circle cx="160.7" cy="166.4" r="1.0" fill="#f54e32"/><circle cx="165.1" cy="189.1" r="1.0" fill="#f54e32"/><circle cx="169.5" cy="209.1" r="1.0" fill="#f54e32"/><circle cx="173.9" cy="234.5" r="1.0" fill="#f54e32"/><circle cx="178.3" cy="228.2" r="1.0" fill="#f54e32"/></g>
<g clip-path="url(#cc)"><polyline points="27.4,237.5 33.1,237.5 37.5,237.5 41.9,237.5 46.3,237.5 50.7,237.5 55.1,237.5 59.5,237.5 63.9,237.5 68.3,237.5 72.7,237.5 77.1,237.5 81.5,237.4 85.9,236.6 90.3,235.7 94.7,234.9 99.1,233.3 103.5,231.6 107.9,230 112.3,230.8 116.7,228.4 121.1,225.6 125.5,223 129.9,221 134.3,218.7 138.7,210 143.1,199.1 147.5,185.5 151.9,171.8 156.3,166.4 160.7,171.7 165.1,183.6 169.5,201.8 173.9,220 178.3,235.5" fill="none" stroke="#737373" stroke-width="1.4" stroke-linejoin="round"/>
<circle cx="27.4" cy="237.5" r="1.0" fill="#737373"/><circle cx="33.1" cy="237.5" r="1.0" fill="#737373"/><circle cx="37.5" cy="237.5" r="1.0" fill="#737373"/><circle cx="41.9" cy="237.5" r="1.0" fill="#737373"/><circle cx="46.3" cy="237.5" r="1.0" fill="#737373"/><circle cx="50.7" cy="237.5" r="1.0" fill="#737373"/><circle cx="55.1" cy="237.5" r="1.0" fill="#737373"/><circle cx="59.5" cy="237.5" r="1.0" fill="#737373"/><circle cx="63.9" cy="237.5" r="1.0" fill="#737373"/><circle cx="68.3" cy="237.5" r="1.0" fill="#737373"/><circle cx="72.7" cy="237.5" r="1.0" fill="#737373"/><circle cx="77.1" cy="237.5" r="1.0" fill="#737373"/><circle cx="81.5" cy="237.4" r="1.0" fill="#737373"/><circle cx="85.9" cy="236.6" r="1.0" fill="#737373"/><circle cx="90.3" cy="235.7" r="1.0" fill="#737373"/><circle cx="94.7" cy="234.9" r="1.0" fill="#737373"/><circle cx="99.1" cy="233.3" r="1.0" fill="#737373"/><circle cx="103.5" cy="231.6" r="1.0" fill="#737373"/><circle cx="107.9" cy="230" r="1.0" fill="#737373"/><circle cx="112.3" cy="230.8" r="1.0" fill="#737373"/><circle cx="116.7" cy="228.4" r="1.0" fill="#737373"/><circle cx="121.1" cy="225.6" r="1.0" fill="#737373"/><circle cx="125.5" cy="223" r="1.0" fill="#737373"/><circle cx="129.9" cy="221" r="1.0" fill="#737373"/><circle cx="134.3" cy="218.7" r="1.0" fill="#737373"/><circle cx="138.7" cy="210" r="1.0" fill="#737373"/><circle cx="143.1" cy="199.1" r="1.0" fill="#737373"/><circle cx="147.5" cy="185.5" r="1.0" fill="#737373"/><circle cx="151.9" cy="171.8" r="1.0" fill="#737373"/><circle cx="156.3" cy="166.4" r="1.0" fill="#737373"/><circle cx="160.7" cy="171.7" r="1.0" fill="#737373"/><circle cx="165.1" cy="183.6" r="1.0" fill="#737373"/><circle cx="169.5" cy="201.8" r="1.0" fill="#737373"/><circle cx="173.9" cy="220" r="1.0" fill="#737373"/><circle cx="178.3" cy="235.5" r="1.0" fill="#737373"/></g>
<path d="M27.4 142.4V237.7H178.3" fill="none" stroke="#3a3a3a" stroke-width="0.8"/>
<path d="M25.8 237.7H27.4" stroke="#3a3a3a" stroke-width="0.7"/>
<text x="22.4" y="240.7" class="yt">0</text>
<path d="M25.8 211.23H27.4" stroke="#3a3a3a" stroke-width="0.7"/>
<text x="22.4" y="214.23" class="yt">0.05</text>
<path d="M25.8 184.76H27.4" stroke="#3a3a3a" stroke-width="0.7"/>
<text x="22.4" y="187.76" class="yt">0.10</text>
<path d="M25.8 158.28H27.4" stroke="#3a3a3a" stroke-width="0.7"/>
<text x="22.4" y="161.28" class="yt">0.15</text>
<path d="M30.9 237.7V239.5" stroke="#3a3a3a" stroke-width="0.7"/>
<text x="31.4" y="247.6" class="xt">10<tspan dy="-1.7" dx="-0.2" class="sup">1</tspan></text>
<path d="M83.1 237.7V239.5" stroke="#3a3a3a" stroke-width="0.7"/>
<text x="83.6" y="247.6" class="xt">10<tspan dy="-1.7" dx="-0.2" class="sup">2</tspan></text>
<path d="M135.3 237.7V239.5" stroke="#3a3a3a" stroke-width="0.7"/>
<text x="135.8" y="247.6" class="xt">10<tspan dy="-1.7" dx="-0.2" class="sup">3</tspan></text>
<path d="M28.51 237.7V238.7" stroke="#3a3a3a" stroke-width="0.5"/>
<path d="M46.61 237.7V238.7" stroke="#3a3a3a" stroke-width="0.5"/>
<path d="M55.81 237.7V238.7" stroke="#3a3a3a" stroke-width="0.5"/>
<path d="M62.33 237.7V238.7" stroke="#3a3a3a" stroke-width="0.5"/>
<path d="M67.39 237.7V238.7" stroke="#3a3a3a" stroke-width="0.5"/>
<path d="M71.52 237.7V238.7" stroke="#3a3a3a" stroke-width="0.5"/>
<path d="M75.01 237.7V238.7" stroke="#3a3a3a" stroke-width="0.5"/>
<path d="M78.04 237.7V238.7" stroke="#3a3a3a" stroke-width="0.5"/>
<path d="M80.71 237.7V238.7" stroke="#3a3a3a" stroke-width="0.5"/>
<path d="M98.81 237.7V238.7" stroke="#3a3a3a" stroke-width="0.5"/>
<path d="M108.01 237.7V238.7" stroke="#3a3a3a" stroke-width="0.5"/>
<path d="M114.53 237.7V238.7" stroke="#3a3a3a" stroke-width="0.5"/>
<path d="M119.59 237.7V238.7" stroke="#3a3a3a" stroke-width="0.5"/>
<path d="M123.72 237.7V238.7" stroke="#3a3a3a" stroke-width="0.5"/>
<path d="M127.21 237.7V238.7" stroke="#3a3a3a" stroke-width="0.5"/>
<path d="M130.24 237.7V238.7" stroke="#3a3a3a" stroke-width="0.5"/>
<path d="M132.91 237.7V238.7" stroke="#3a3a3a" stroke-width="0.5"/>
<path d="M151.01 237.7V238.7" stroke="#3a3a3a" stroke-width="0.5"/>
<path d="M160.21 237.7V238.7" stroke="#3a3a3a" stroke-width="0.5"/>
<path d="M166.73 237.7V238.7" stroke="#3a3a3a" stroke-width="0.5"/>
<path d="M171.79 237.7V238.7" stroke="#3a3a3a" stroke-width="0.5"/>
<path d="M175.92 237.7V238.7" stroke="#3a3a3a" stroke-width="0.5"/>
<text transform="translate(102.8,255.5) scale(0.88,1.0)" x="-24.98 -21.44 -19.31 -15.9 -12.38 -8.8 -7.47 -3.99 -2.22 0.74 2.2 5.03 8.51 10.81 13.32 17.16 22.69" y="0" class="xl" style="font-size:6.0px">granule size (µm)</text>
<text transform="translate(8.9,190.05) rotate(-90) scale(0.88,1.0)" x="-26.94 -23.83 -20.31 -18.73 -15.09 -10.04 -6.56 -4.38 -2.34 -0.2 3.12 6.53 8.75 10.26 13.73 17.46 19.76 22.22 24.68" y="0" class="yl" style="font-size:6.0px">volume fraction (-)</text>
<text transform="translate(31.7,190.8) scale(0.88,1.0)" x="0.16 4.25 6.38 10.37 12.44 14.42 17.88 19.68" y="0" class="an" style="font-size:6.0px">L/S: 0.6</text>
<text transform="translate(31.7,197.42) scale(0.88,1.0)" x="0.46 6.01 9.78 14.24 16.3 18.28 21.94 24.05 27.22 31.17 33.5" y="0" class="an" style="font-size:6.0px">MFR: 5 kg/h</text>
<text transform="translate(31.7,204.04) scale(0.88,1.0)" x="-0.12 3.76 6.92 8.91 12.22 16.99 18.74 21.61 24.86 27.87 31.11 34.64 36.7 38.68 42.06 45.44 49.1 51.21 53.45 57.05" y="0" class="an" style="font-size:6.0px">Screw speed: 450 rpm</text>
<rect x="29.8" y="144.4" width="70.6" height="26.3" rx="1.2" fill="#fff" fill-opacity="0.8" stroke="#e4e4e4" stroke-width="0.6"/>
<path d="M32 149.7H44.3" stroke="#34a0dc" stroke-width="1.4"/>
<circle cx="38.3" cy="149.7" r="0.9" fill="#34a0dc"/>
<text transform="translate(48.3,151.45) scale(0.88,1.0)" x="0.44 5.23 8.07 10.87 13.48 16.72 18.53 21.58 26.12 29.07 32.52" y="0" class="lg" style="font-size:5.4px">Measurement</text>
<path d="M32 157.6H44.3" stroke="#f54e32" stroke-width="1.4"/>
<circle cx="38.3" cy="157.6" r="0.9" fill="#f54e32"/>
<text transform="translate(48.3,159.35) scale(0.88,1.0)" x="0.33 4.69 9.66 13.56 15.5 18.82 23.34 27.96 29.82 33.06 34.87 37.82 41.04 42.38 45.45 47.44 48.81 51.93" y="0" class="lg" style="font-size:5.4px">KME LOO prediction</text>
<path d="M32 165.5H44.3" stroke="#737373" stroke-width="1.4"/>
<circle cx="38.3" cy="165.5" r="0.9" fill="#737373"/>
<text transform="translate(48.3,167.25) scale(0.88,1.0)" x="0.16 4.17 8.45 13.65 15.44 18.13 21.24 22.7 24.12 27.36 29.28 32.62 34.61 35.97 39.09" y="0" class="lg" style="font-size:5.4px">PBM calibration</text>
<text x="87.9" y="272.3" class="cap" style="font-size:6.6px">(</text><text transform="translate(91.8,272.3) scale(1.2,1)" class="cap" style="font-size:7.25px">c</text><text x="95.7" y="272.3" class="cap" style="font-size:6.6px">)</text>
<clipPath id="cd"><rect x="211.8" y="142.4" width="152.9" height="98.3"/></clipPath>
<g clip-path="url(#cd)"><polyline points="211.8,237.2 217.5,237.6 221.9,237.6 226.3,237.6 230.7,237.6 235.1,237.6 239.5,237.6 243.9,237.6 248.3,237.6 252.7,237.6 257.1,237.6 261.5,237.6 265.9,237.6 270.3,237.6 274.7,237.6 279.1,237.6 283.5,236.6 287.9,235.9 292.3,235 296.7,233.3 301.1,230.6 305.5,227.9 309.9,224.6 314.3,218.2 318.7,213.2 323.1,207.7 327.5,193.9 331.9,179.7 336.3,166.2 340.7,161.2 345.1,186.2 349.5,162.7 353.9,208.2 358.3,236.4 362.7,237.3" fill="none" stroke="#34a0dc" stroke-width="1.4" stroke-linejoin="round"/>
<circle cx="211.8" cy="237.2" r="1.0" fill="#34a0dc"/><circle cx="217.5" cy="237.6" r="1.0" fill="#34a0dc"/><circle cx="221.9" cy="237.6" r="1.0" fill="#34a0dc"/><circle cx="226.3" cy="237.6" r="1.0" fill="#34a0dc"/><circle cx="230.7" cy="237.6" r="1.0" fill="#34a0dc"/><circle cx="235.1" cy="237.6" r="1.0" fill="#34a0dc"/><circle cx="239.5" cy="237.6" r="1.0" fill="#34a0dc"/><circle cx="243.9" cy="237.6" r="1.0" fill="#34a0dc"/><circle cx="248.3" cy="237.6" r="1.0" fill="#34a0dc"/><circle cx="252.7" cy="237.6" r="1.0" fill="#34a0dc"/><circle cx="257.1" cy="237.6" r="1.0" fill="#34a0dc"/><circle cx="261.5" cy="237.6" r="1.0" fill="#34a0dc"/><circle cx="265.9" cy="237.6" r="1.0" fill="#34a0dc"/><circle cx="270.3" cy="237.6" r="1.0" fill="#34a0dc"/><circle cx="274.7" cy="237.6" r="1.0" fill="#34a0dc"/><circle cx="279.1" cy="237.6" r="1.0" fill="#34a0dc"/><circle cx="283.5" cy="236.6" r="1.0" fill="#34a0dc"/><circle cx="287.9" cy="235.9" r="1.0" fill="#34a0dc"/><circle cx="292.3" cy="235" r="1.0" fill="#34a0dc"/><circle cx="296.7" cy="233.3" r="1.0" fill="#34a0dc"/><circle cx="301.1" cy="230.6" r="1.0" fill="#34a0dc"/><circle cx="305.5" cy="227.9" r="1.0" fill="#34a0dc"/><circle cx="309.9" cy="224.6" r="1.0" fill="#34a0dc"/><circle cx="314.3" cy="218.2" r="1.0" fill="#34a0dc"/><circle cx="318.7" cy="213.2" r="1.0" fill="#34a0dc"/><circle cx="323.1" cy="207.7" r="1.0" fill="#34a0dc"/><circle cx="327.5" cy="193.9" r="1.0" fill="#34a0dc"/><circle cx="331.9" cy="179.7" r="1.0" fill="#34a0dc"/><circle cx="336.3" cy="166.2" r="1.0" fill="#34a0dc"/><circle cx="340.7" cy="161.2" r="1.0" fill="#34a0dc"/><circle cx="345.1" cy="186.2" r="1.0" fill="#34a0dc"/><circle cx="349.5" cy="162.7" r="1.0" fill="#34a0dc"/><circle cx="353.9" cy="208.2" r="1.0" fill="#34a0dc"/><circle cx="358.3" cy="236.4" r="1.0" fill="#34a0dc"/><circle cx="362.7" cy="237.3" r="1.0" fill="#34a0dc"/></g>
<g clip-path="url(#cd)"><polyline points="211.8,235.5 217.5,237.4 221.9,237.5 226.3,237.5 230.7,237.5 235.1,237.5 239.5,237.5 243.9,237.5 248.3,237.5 252.7,237.5 257.1,237.5 261.5,237.5 265.9,237.5 270.3,237.5 274.7,237.5 279.1,237.5 283.5,237.5 287.9,237.5 292.3,237.5 296.7,237.5 301.1,231.7 305.5,228.4 309.9,225.1 314.3,219.9 318.7,213.7 323.1,207.5 327.5,199.2 331.9,190.2 336.3,179.7 340.7,163.8 345.1,167.1 349.5,179.1 353.9,193.6 358.3,200.9 362.7,236.4" fill="none" stroke="#f54e32" stroke-width="1.4" stroke-linejoin="round"/>
<circle cx="211.8" cy="235.5" r="1.0" fill="#f54e32"/><circle cx="217.5" cy="237.4" r="1.0" fill="#f54e32"/><circle cx="221.9" cy="237.5" r="1.0" fill="#f54e32"/><circle cx="226.3" cy="237.5" r="1.0" fill="#f54e32"/><circle cx="230.7" cy="237.5" r="1.0" fill="#f54e32"/><circle cx="235.1" cy="237.5" r="1.0" fill="#f54e32"/><circle cx="239.5" cy="237.5" r="1.0" fill="#f54e32"/><circle cx="243.9" cy="237.5" r="1.0" fill="#f54e32"/><circle cx="248.3" cy="237.5" r="1.0" fill="#f54e32"/><circle cx="252.7" cy="237.5" r="1.0" fill="#f54e32"/><circle cx="257.1" cy="237.5" r="1.0" fill="#f54e32"/><circle cx="261.5" cy="237.5" r="1.0" fill="#f54e32"/><circle cx="265.9" cy="237.5" r="1.0" fill="#f54e32"/><circle cx="270.3" cy="237.5" r="1.0" fill="#f54e32"/><circle cx="274.7" cy="237.5" r="1.0" fill="#f54e32"/><circle cx="279.1" cy="237.5" r="1.0" fill="#f54e32"/><circle cx="283.5" cy="237.5" r="1.0" fill="#f54e32"/><circle cx="287.9" cy="237.5" r="1.0" fill="#f54e32"/><circle cx="292.3" cy="237.5" r="1.0" fill="#f54e32"/><circle cx="296.7" cy="237.5" r="1.0" fill="#f54e32"/><circle cx="301.1" cy="231.7" r="1.0" fill="#f54e32"/><circle cx="305.5" cy="228.4" r="1.0" fill="#f54e32"/><circle cx="309.9" cy="225.1" r="1.0" fill="#f54e32"/><circle cx="314.3" cy="219.9" r="1.0" fill="#f54e32"/><circle cx="318.7" cy="213.7" r="1.0" fill="#f54e32"/><circle cx="323.1" cy="207.5" r="1.0" fill="#f54e32"/><circle cx="327.5" cy="199.2" r="1.0" fill="#f54e32"/><circle cx="331.9" cy="190.2" r="1.0" fill="#f54e32"/><circle cx="336.3" cy="179.7" r="1.0" fill="#f54e32"/><circle cx="340.7" cy="163.8" r="1.0" fill="#f54e32"/><circle cx="345.1" cy="167.1" r="1.0" fill="#f54e32"/><circle cx="349.5" cy="179.1" r="1.0" fill="#f54e32"/><circle cx="353.9" cy="193.6" r="1.0" fill="#f54e32"/><circle cx="358.3" cy="200.9" r="1.0" fill="#f54e32"/><circle cx="362.7" cy="236.4" r="1.0" fill="#f54e32"/></g>
<path d="M211.8 142.4V237.7H362.7" fill="none" stroke="#3a3a3a" stroke-width="0.8"/>
<path d="M210.2 237.7H211.8" stroke="#3a3a3a" stroke-width="0.7"/>
<text x="206.8" y="240.7" class="yt">0</text>
<path d="M210.2 211.23H211.8" stroke="#3a3a3a" stroke-width="0.7"/>
<text x="206.8" y="214.23" class="yt">0.05</text>
<path d="M210.2 184.76H211.8" stroke="#3a3a3a" stroke-width="0.7"/>
<text x="206.8" y="187.76" class="yt">0.10</text>
<path d="M210.2 158.28H211.8" stroke="#3a3a3a" stroke-width="0.7"/>
<text x="206.8" y="161.28" class="yt">0.15</text>
<path d="M215.3 237.7V239.5" stroke="#3a3a3a" stroke-width="0.7"/>
<text x="215.8" y="247.6" class="xt">10<tspan dy="-1.7" dx="-0.2" class="sup">1</tspan></text>
<path d="M267.5 237.7V239.5" stroke="#3a3a3a" stroke-width="0.7"/>
<text x="268" y="247.6" class="xt">10<tspan dy="-1.7" dx="-0.2" class="sup">2</tspan></text>
<path d="M319.7 237.7V239.5" stroke="#3a3a3a" stroke-width="0.7"/>
<text x="320.2" y="247.6" class="xt">10<tspan dy="-1.7" dx="-0.2" class="sup">3</tspan></text>
<path d="M212.91 237.7V238.7" stroke="#3a3a3a" stroke-width="0.5"/>
<path d="M231.01 237.7V238.7" stroke="#3a3a3a" stroke-width="0.5"/>
<path d="M240.21 237.7V238.7" stroke="#3a3a3a" stroke-width="0.5"/>
<path d="M246.73 237.7V238.7" stroke="#3a3a3a" stroke-width="0.5"/>
<path d="M251.79 237.7V238.7" stroke="#3a3a3a" stroke-width="0.5"/>
<path d="M255.92 237.7V238.7" stroke="#3a3a3a" stroke-width="0.5"/>
<path d="M259.41 237.7V238.7" stroke="#3a3a3a" stroke-width="0.5"/>
<path d="M262.44 237.7V238.7" stroke="#3a3a3a" stroke-width="0.5"/>
<path d="M265.11 237.7V238.7" stroke="#3a3a3a" stroke-width="0.5"/>
<path d="M283.21 237.7V238.7" stroke="#3a3a3a" stroke-width="0.5"/>
<path d="M292.41 237.7V238.7" stroke="#3a3a3a" stroke-width="0.5"/>
<path d="M298.93 237.7V238.7" stroke="#3a3a3a" stroke-width="0.5"/>
<path d="M303.99 237.7V238.7" stroke="#3a3a3a" stroke-width="0.5"/>
<path d="M308.12 237.7V238.7" stroke="#3a3a3a" stroke-width="0.5"/>
<path d="M311.61 237.7V238.7" stroke="#3a3a3a" stroke-width="0.5"/>
<path d="M314.64 237.7V238.7" stroke="#3a3a3a" stroke-width="0.5"/>
<path d="M317.31 237.7V238.7" stroke="#3a3a3a" stroke-width="0.5"/>
<path d="M335.41 237.7V238.7" stroke="#3a3a3a" stroke-width="0.5"/>
<path d="M344.61 237.7V238.7" stroke="#3a3a3a" stroke-width="0.5"/>
<path d="M351.13 237.7V238.7" stroke="#3a3a3a" stroke-width="0.5"/>
<path d="M356.19 237.7V238.7" stroke="#3a3a3a" stroke-width="0.5"/>
<path d="M360.32 237.7V238.7" stroke="#3a3a3a" stroke-width="0.5"/>
<text transform="translate(287.2,255.5) scale(0.88,1.0)" x="-24.98 -21.44 -19.31 -15.9 -12.38 -8.8 -7.47 -3.99 -2.22 0.74 2.2 5.03 8.51 10.81 13.32 17.16 22.69" y="0" class="xl" style="font-size:6.0px">granule size (µm)</text>
<text transform="translate(193.3,190.05) rotate(-90) scale(0.88,1.0)" x="-26.94 -23.83 -20.31 -18.73 -15.09 -10.04 -6.56 -4.38 -2.34 -0.2 3.12 6.53 8.75 10.26 13.73 17.46 19.76 22.22 24.68" y="0" class="yl" style="font-size:6.0px">volume fraction (-)</text>
<text transform="translate(216.1,190.8) scale(0.88,1.0)" x="0.16 4.25 6.38 10.37 12.44 14.42 17.88 19.68" y="0" class="an" style="font-size:6.0px">L/S: 0.6</text>
<text transform="translate(216.1,197.42) scale(0.88,1.0)" x="0.46 6.01 9.78 14.24 16.3 18.28 21.67 25.13 26.93 30.58 32.69 35.86 39.81 42.14" y="0" class="an" style="font-size:6.0px">MFR: 12.5 kg/h</text>
<text transform="translate(216.1,204.04) scale(0.88,1.0)" x="-0.12 3.76 6.92 8.91 12.22 16.99 18.74 21.61 24.86 27.87 31.11 34.64 36.7 38.68 42.06 45.44 49.1 51.21 53.45 57.05" y="0" class="an" style="font-size:6.0px">Screw speed: 450 rpm</text>
<rect x="214.2" y="144.4" width="70.6" height="18.3" rx="1.2" fill="#fff" fill-opacity="0.8" stroke="#e4e4e4" stroke-width="0.6"/>
<path d="M216.4 149.7H228.7" stroke="#34a0dc" stroke-width="1.4"/>
<circle cx="222.7" cy="149.7" r="0.9" fill="#34a0dc"/>
<text transform="translate(232.7,151.45) scale(0.88,1.0)" x="0.44 5.23 8.07 10.87 13.48 16.72 18.53 21.58 26.12 29.07 32.52" y="0" class="lg" style="font-size:5.4px">Measurement</text>
<path d="M216.4 157.6H228.7" stroke="#f54e32" stroke-width="1.4"/>
<circle cx="222.7" cy="157.6" r="0.9" fill="#f54e32"/>
<text transform="translate(232.7,159.35) scale(0.88,1.0)" x="0.33 4.69 9.66 13.56 15.5 18.82 23.34 27.96 29.82 33.06 34.87 37.82 41.04 42.38 45.45 47.44 48.81 51.93" y="0" class="lg" style="font-size:5.4px">KME LOO prediction</text>
<text x="272.3" y="272.3" class="cap" style="font-size:6.6px">(</text><text transform="translate(276.2,272.3) scale(1.2,1)" class="cap" style="font-size:7.25px">d</text><text x="280.1" y="272.3" class="cap" style="font-size:6.6px">)</text>
<clipPath id="ce"><rect x="27.4" y="279.2" width="152.9" height="98.3"/></clipPath>
<g clip-path="url(#ce)"><polyline points="27.4,374.3 33.1,374.3 37.5,374.3 41.9,374.3 46.3,374.3 50.7,374.3 55.1,374.3 59.5,374.3 63.9,374.3 68.3,374.3 72.7,374.3 77.1,374.3 81.5,374.3 85.9,374.3 90.3,374.3 94.7,374.3 99.1,374.3 103.5,374.3 107.9,374.3 112.3,374.3 116.7,374.3 121.1,374.3 125.5,373 129.9,368.1 134.3,360.4 138.7,347 143.1,332.7 147.5,316.4 151.9,295.5 156.3,288.2 160.7,285.5 165.1,298.2 169.5,333.6 173.9,373.6 178.3,374.5" fill="none" stroke="#34a0dc" stroke-width="1.4" stroke-linejoin="round"/>
<circle cx="27.4" cy="374.3" r="1.0" fill="#34a0dc"/><circle cx="33.1" cy="374.3" r="1.0" fill="#34a0dc"/><circle cx="37.5" cy="374.3" r="1.0" fill="#34a0dc"/><circle cx="41.9" cy="374.3" r="1.0" fill="#34a0dc"/><circle cx="46.3" cy="374.3" r="1.0" fill="#34a0dc"/><circle cx="50.7" cy="374.3" r="1.0" fill="#34a0dc"/><circle cx="55.1" cy="374.3" r="1.0" fill="#34a0dc"/><circle cx="59.5" cy="374.3" r="1.0" fill="#34a0dc"/><circle cx="63.9" cy="374.3" r="1.0" fill="#34a0dc"/><circle cx="68.3" cy="374.3" r="1.0" fill="#34a0dc"/><circle cx="72.7" cy="374.3" r="1.0" fill="#34a0dc"/><circle cx="77.1" cy="374.3" r="1.0" fill="#34a0dc"/><circle cx="81.5" cy="374.3" r="1.0" fill="#34a0dc"/><circle cx="85.9" cy="374.3" r="1.0" fill="#34a0dc"/><circle cx="90.3" cy="374.3" r="1.0" fill="#34a0dc"/><circle cx="94.7" cy="374.3" r="1.0" fill="#34a0dc"/><circle cx="99.1" cy="374.3" r="1.0" fill="#34a0dc"/><circle cx="103.5" cy="374.3" r="1.0" fill="#34a0dc"/><circle cx="107.9" cy="374.3" r="1.0" fill="#34a0dc"/><circle cx="112.3" cy="374.3" r="1.0" fill="#34a0dc"/><circle cx="116.7" cy="374.3" r="1.0" fill="#34a0dc"/><circle cx="121.1" cy="374.3" r="1.0" fill="#34a0dc"/><circle cx="125.5" cy="373" r="1.0" fill="#34a0dc"/><circle cx="129.9" cy="368.1" r="1.0" fill="#34a0dc"/><circle cx="134.3" cy="360.4" r="1.0" fill="#34a0dc"/><circle cx="138.7" cy="347" r="1.0" fill="#34a0dc"/><circle cx="143.1" cy="332.7" r="1.0" fill="#34a0dc"/><circle cx="147.5" cy="316.4" r="1.0" fill="#34a0dc"/><circle cx="151.9" cy="295.5" r="1.0" fill="#34a0dc"/><circle cx="156.3" cy="288.2" r="1.0" fill="#34a0dc"/><circle cx="160.7" cy="285.5" r="1.0" fill="#34a0dc"/><circle cx="165.1" cy="298.2" r="1.0" fill="#34a0dc"/><circle cx="169.5" cy="333.6" r="1.0" fill="#34a0dc"/><circle cx="173.9" cy="373.6" r="1.0" fill="#34a0dc"/><circle cx="178.3" cy="374.5" r="1.0" fill="#34a0dc"/></g>
<g clip-path="url(#ce)"><polyline points="27.4,374.3 33.1,374.3 37.5,374.3 41.9,374.3 46.3,374.3 50.7,374.3 55.1,374.3 59.5,374.3 63.9,374.3 68.3,374.3 72.7,374.3 77.1,374.3 81.5,374.3 85.9,374.3 90.3,374.3 94.7,374.3 99.1,374.3 103.5,374.3 107.9,374.3 112.3,374.1 116.7,368.1 121.1,361.5 125.5,356.6 129.9,351.7 134.3,346.2 138.7,340 143.1,332.7 147.5,326.4 151.9,315.4 156.3,297.3 160.7,297.3 165.1,308.2 169.5,341.8 173.9,367.3 178.3,374.5" fill="none" stroke="#f54e32" stroke-width="1.4" stroke-linejoin="round"/>
<circle cx="27.4" cy="374.3" r="1.0" fill="#f54e32"/><circle cx="33.1" cy="374.3" r="1.0" fill="#f54e32"/><circle cx="37.5" cy="374.3" r="1.0" fill="#f54e32"/><circle cx="41.9" cy="374.3" r="1.0" fill="#f54e32"/><circle cx="46.3" cy="374.3" r="1.0" fill="#f54e32"/><circle cx="50.7" cy="374.3" r="1.0" fill="#f54e32"/><circle cx="55.1" cy="374.3" r="1.0" fill="#f54e32"/><circle cx="59.5" cy="374.3" r="1.0" fill="#f54e32"/><circle cx="63.9" cy="374.3" r="1.0" fill="#f54e32"/><circle cx="68.3" cy="374.3" r="1.0" fill="#f54e32"/><circle cx="72.7" cy="374.3" r="1.0" fill="#f54e32"/><circle cx="77.1" cy="374.3" r="1.0" fill="#f54e32"/><circle cx="81.5" cy="374.3" r="1.0" fill="#f54e32"/><circle cx="85.9" cy="374.3" r="1.0" fill="#f54e32"/><circle cx="90.3" cy="374.3" r="1.0" fill="#f54e32"/><circle cx="94.7" cy="374.3" r="1.0" fill="#f54e32"/><circle cx="99.1" cy="374.3" r="1.0" fill="#f54e32"/><circle cx="103.5" cy="374.3" r="1.0" fill="#f54e32"/><circle cx="107.9" cy="374.3" r="1.0" fill="#f54e32"/><circle cx="112.3" cy="374.1" r="1.0" fill="#f54e32"/><circle cx="116.7" cy="368.1" r="1.0" fill="#f54e32"/><circle cx="121.1" cy="361.5" r="1.0" fill="#f54e32"/><circle cx="125.5" cy="356.6" r="1.0" fill="#f54e32"/><circle cx="129.9" cy="351.7" r="1.0" fill="#f54e32"/><circle cx="134.3" cy="346.2" r="1.0" fill="#f54e32"/><circle cx="138.7" cy="340" r="1.0" fill="#f54e32"/><circle cx="143.1" cy="332.7" r="1.0" fill="#f54e32"/><circle cx="147.5" cy="326.4" r="1.0" fill="#f54e32"/><circle cx="151.9" cy="315.4" r="1.0" fill="#f54e32"/><circle cx="156.3" cy="297.3" r="1.0" fill="#f54e32"/><circle cx="160.7" cy="297.3" r="1.0" fill="#f54e32"/><circle cx="165.1" cy="308.2" r="1.0" fill="#f54e32"/><circle cx="169.5" cy="341.8" r="1.0" fill="#f54e32"/><circle cx="173.9" cy="367.3" r="1.0" fill="#f54e32"/><circle cx="178.3" cy="374.5" r="1.0" fill="#f54e32"/></g>
<path d="M27.4 279.2V374.5H178.3" fill="none" stroke="#3a3a3a" stroke-width="0.8"/>
<path d="M25.8 374.5H27.4" stroke="#3a3a3a" stroke-width="0.7"/>
<text x="22.4" y="377.5" class="yt">0</text>
<path d="M25.8 348.03H27.4" stroke="#3a3a3a" stroke-width="0.7"/>
<text x="22.4" y="351.03" class="yt">0.05</text>
<path d="M25.8 321.56H27.4" stroke="#3a3a3a" stroke-width="0.7"/>
<text x="22.4" y="324.56" class="yt">0.10</text>
<path d="M25.8 295.08H27.4" stroke="#3a3a3a" stroke-width="0.7"/>
<text x="22.4" y="298.08" class="yt">0.15</text>
<path d="M30.9 374.5V376.3" stroke="#3a3a3a" stroke-width="0.7"/>
<text x="31.4" y="384.4" class="xt">10<tspan dy="-1.7" dx="-0.2" class="sup">1</tspan></text>
<path d="M83.1 374.5V376.3" stroke="#3a3a3a" stroke-width="0.7"/>
<text x="83.6" y="384.4" class="xt">10<tspan dy="-1.7" dx="-0.2" class="sup">2</tspan></text>
<path d="M135.3 374.5V376.3" stroke="#3a3a3a" stroke-width="0.7"/>
<text x="135.8" y="384.4" class="xt">10<tspan dy="-1.7" dx="-0.2" class="sup">3</tspan></text>
<path d="M28.51 374.5V375.5" stroke="#3a3a3a" stroke-width="0.5"/>
<path d="M46.61 374.5V375.5" stroke="#3a3a3a" stroke-width="0.5"/>
<path d="M55.81 374.5V375.5" stroke="#3a3a3a" stroke-width="0.5"/>
<path d="M62.33 374.5V375.5" stroke="#3a3a3a" stroke-width="0.5"/>
<path d="M67.39 374.5V375.5" stroke="#3a3a3a" stroke-width="0.5"/>
<path d="M71.52 374.5V375.5" stroke="#3a3a3a" stroke-width="0.5"/>
<path d="M75.01 374.5V375.5" stroke="#3a3a3a" stroke-width="0.5"/>
<path d="M78.04 374.5V375.5" stroke="#3a3a3a" stroke-width="0.5"/>
<path d="M80.71 374.5V375.5" stroke="#3a3a3a" stroke-width="0.5"/>
<path d="M98.81 374.5V375.5" stroke="#3a3a3a" stroke-width="0.5"/>
<path d="M108.01 374.5V375.5" stroke="#3a3a3a" stroke-width="0.5"/>
<path d="M114.53 374.5V375.5" stroke="#3a3a3a" stroke-width="0.5"/>
<path d="M119.59 374.5V375.5" stroke="#3a3a3a" stroke-width="0.5"/>
<path d="M123.72 374.5V375.5" stroke="#3a3a3a" stroke-width="0.5"/>
<path d="M127.21 374.5V375.5" stroke="#3a3a3a" stroke-width="0.5"/>
<path d="M130.24 374.5V375.5" stroke="#3a3a3a" stroke-width="0.5"/>
<path d="M132.91 374.5V375.5" stroke="#3a3a3a" stroke-width="0.5"/>
<path d="M151.01 374.5V375.5" stroke="#3a3a3a" stroke-width="0.5"/>
<path d="M160.21 374.5V375.5" stroke="#3a3a3a" stroke-width="0.5"/>
<path d="M166.73 374.5V375.5" stroke="#3a3a3a" stroke-width="0.5"/>
<path d="M171.79 374.5V375.5" stroke="#3a3a3a" stroke-width="0.5"/>
<path d="M175.92 374.5V375.5" stroke="#3a3a3a" stroke-width="0.5"/>
<text transform="translate(102.8,392.3) scale(0.88,1.0)" x="-24.98 -21.44 -19.31 -15.9 -12.38 -8.8 -7.47 -3.99 -2.22 0.74 2.2 5.03 8.51 10.81 13.32 17.16 22.69" y="0" class="xl" style="font-size:6.0px">granule size (µm)</text>
<text transform="translate(8.9,326.85) rotate(-90) scale(0.88,1.0)" x="-26.94 -23.83 -20.31 -18.73 -15.09 -10.04 -6.56 -4.38 -2.34 -0.2 3.12 6.53 8.75 10.26 13.73 17.46 19.76 22.22 24.68" y="0" class="yl" style="font-size:6.0px">volume fraction (-)</text>
<text transform="translate(31.7,327.6) scale(0.88,1.0)" x="0.16 4.25 6.38 10.37 12.44 14.42 17.88 19.68" y="0" class="an" style="font-size:6.0px">L/S: 0.6</text>
<text transform="translate(31.7,334.22) scale(0.88,1.0)" x="0.46 6.01 9.78 14.24 16.3 18.28 21.67 25.13 26.93 30.58 32.69 35.86 39.81 42.14" y="0" class="an" style="font-size:6.0px">MFR: 12.5 kg/h</text>
<text transform="translate(31.7,340.84) scale(0.88,1.0)" x="-0.12 3.76 6.92 8.91 12.22 16.99 18.74 21.61 24.86 27.87 31.11 34.64 36.7 38.68 42.06 45.44 49.1 51.21 53.45 57.05" y="0" class="an" style="font-size:6.0px">Screw speed: 675 rpm</text>
<rect x="29.8" y="281.2" width="70.6" height="18.3" rx="1.2" fill="#fff" fill-opacity="0.8" stroke="#e4e4e4" stroke-width="0.6"/>
<path d="M32 286.5H44.3" stroke="#34a0dc" stroke-width="1.4"/>
<circle cx="38.3" cy="286.5" r="0.9" fill="#34a0dc"/>
<text transform="translate(48.3,288.25) scale(0.88,1.0)" x="0.44 5.23 8.07 10.87 13.48 16.72 18.53 21.58 26.12 29.07 32.52" y="0" class="lg" style="font-size:5.4px">Measurement</text>
<path d="M32 294.4H44.3" stroke="#f54e32" stroke-width="1.4"/>
<circle cx="38.3" cy="294.4" r="0.9" fill="#f54e32"/>
<text transform="translate(48.3,296.15) scale(0.88,1.0)" x="0.33 4.69 9.66 13.56 15.5 18.82 23.34 27.96 29.82 33.06 34.87 37.82 41.04 42.38 45.45 47.44 48.81 51.93" y="0" class="lg" style="font-size:5.4px">KME LOO prediction</text>
<text x="87.9" y="409.1" class="cap" style="font-size:6.6px">(</text><text transform="translate(91.8,409.1) scale(1.2,1)" class="cap" style="font-size:7.25px">e</text><text x="95.7" y="409.1" class="cap" style="font-size:6.6px">)</text>
<clipPath id="cf"><rect x="211.8" y="279.2" width="152.9" height="98.3"/></clipPath>
<g clip-path="url(#cf)"><polyline points="211.8,374 217.5,374.4 221.9,374.4 226.3,374.4 230.7,374.4 235.1,374.4 239.5,374.4 243.9,374.4 248.3,374.4 252.7,374.4 257.1,374.4 261.5,374.4 265.9,374.4 270.3,374.2 274.7,373.9 279.1,372.9 283.5,371.4 287.9,368.1 292.3,363.2 296.7,358.8 301.1,353.9 305.5,349.5 309.9,345.7 314.3,343 318.7,338.5 323.1,332.7 327.5,329.1 331.9,334.2 336.3,326.4 340.7,304.5 345.1,323.6 349.5,340 353.9,356.4 358.3,373.6 362.7,373.6" fill="none" stroke="#34a0dc" stroke-width="1.4" stroke-linejoin="round"/>
<circle cx="211.8" cy="374" r="1.0" fill="#34a0dc"/><circle cx="217.5" cy="374.4" r="1.0" fill="#34a0dc"/><circle cx="221.9" cy="374.4" r="1.0" fill="#34a0dc"/><circle cx="226.3" cy="374.4" r="1.0" fill="#34a0dc"/><circle cx="230.7" cy="374.4" r="1.0" fill="#34a0dc"/><circle cx="235.1" cy="374.4" r="1.0" fill="#34a0dc"/><circle cx="239.5" cy="374.4" r="1.0" fill="#34a0dc"/><circle cx="243.9" cy="374.4" r="1.0" fill="#34a0dc"/><circle cx="248.3" cy="374.4" r="1.0" fill="#34a0dc"/><circle cx="252.7" cy="374.4" r="1.0" fill="#34a0dc"/><circle cx="257.1" cy="374.4" r="1.0" fill="#34a0dc"/><circle cx="261.5" cy="374.4" r="1.0" fill="#34a0dc"/><circle cx="265.9" cy="374.4" r="1.0" fill="#34a0dc"/><circle cx="270.3" cy="374.2" r="1.0" fill="#34a0dc"/><circle cx="274.7" cy="373.9" r="1.0" fill="#34a0dc"/><circle cx="279.1" cy="372.9" r="1.0" fill="#34a0dc"/><circle cx="283.5" cy="371.4" r="1.0" fill="#34a0dc"/><circle cx="287.9" cy="368.1" r="1.0" fill="#34a0dc"/><circle cx="292.3" cy="363.2" r="1.0" fill="#34a0dc"/><circle cx="296.7" cy="358.8" r="1.0" fill="#34a0dc"/><circle cx="301.1" cy="353.9" r="1.0" fill="#34a0dc"/><circle cx="305.5" cy="349.5" r="1.0" fill="#34a0dc"/><circle cx="309.9" cy="345.7" r="1.0" fill="#34a0dc"/><circle cx="314.3" cy="343" r="1.0" fill="#34a0dc"/><circle cx="318.7" cy="338.5" r="1.0" fill="#34a0dc"/><circle cx="323.1" cy="332.7" r="1.0" fill="#34a0dc"/><circle cx="327.5" cy="329.1" r="1.0" fill="#34a0dc"/><circle cx="331.9" cy="334.2" r="1.0" fill="#34a0dc"/><circle cx="336.3" cy="326.4" r="1.0" fill="#34a0dc"/><circle cx="340.7" cy="304.5" r="1.0" fill="#34a0dc"/><circle cx="345.1" cy="323.6" r="1.0" fill="#34a0dc"/><circle cx="349.5" cy="340" r="1.0" fill="#34a0dc"/><circle cx="353.9" cy="356.4" r="1.0" fill="#34a0dc"/><circle cx="358.3" cy="373.6" r="1.0" fill="#34a0dc"/><circle cx="362.7" cy="373.6" r="1.0" fill="#34a0dc"/></g>
<g clip-path="url(#cf)"><polyline points="211.8,372.5 217.5,374.2 221.9,374.3 226.3,374.3 230.7,374.3 235.1,374.3 239.5,374.3 243.9,374.3 248.3,374.3 252.7,374.3 257.1,374.3 261.5,374.3 265.9,374.3 270.3,374.3 274.7,374.3 279.1,374.3 283.5,374.3 287.9,374.3 292.3,374.3 296.7,373.6 301.1,370.3 305.5,367.5 309.9,364.3 314.3,358.2 318.7,352.5 323.1,345.5 327.5,334.5 331.9,326.9 336.3,320.9 340.7,296.4 345.1,279 349.5,296.4 353.9,331.8 358.3,373.6 362.7,372.7" fill="none" stroke="#f54e32" stroke-width="1.4" stroke-linejoin="round"/>
<circle cx="211.8" cy="372.5" r="1.0" fill="#f54e32"/><circle cx="217.5" cy="374.2" r="1.0" fill="#f54e32"/><circle cx="221.9" cy="374.3" r="1.0" fill="#f54e32"/><circle cx="226.3" cy="374.3" r="1.0" fill="#f54e32"/><circle cx="230.7" cy="374.3" r="1.0" fill="#f54e32"/><circle cx="235.1" cy="374.3" r="1.0" fill="#f54e32"/><circle cx="239.5" cy="374.3" r="1.0" fill="#f54e32"/><circle cx="243.9" cy="374.3" r="1.0" fill="#f54e32"/><circle cx="248.3" cy="374.3" r="1.0" fill="#f54e32"/><circle cx="252.7" cy="374.3" r="1.0" fill="#f54e32"/><circle cx="257.1" cy="374.3" r="1.0" fill="#f54e32"/><circle cx="261.5" cy="374.3" r="1.0" fill="#f54e32"/><circle cx="265.9" cy="374.3" r="1.0" fill="#f54e32"/><circle cx="270.3" cy="374.3" r="1.0" fill="#f54e32"/><circle cx="274.7" cy="374.3" r="1.0" fill="#f54e32"/><circle cx="279.1" cy="374.3" r="1.0" fill="#f54e32"/><circle cx="283.5" cy="374.3" r="1.0" fill="#f54e32"/><circle cx="287.9" cy="374.3" r="1.0" fill="#f54e32"/><circle cx="292.3" cy="374.3" r="1.0" fill="#f54e32"/><circle cx="296.7" cy="373.6" r="1.0" fill="#f54e32"/><circle cx="301.1" cy="370.3" r="1.0" fill="#f54e32"/><circle cx="305.5" cy="367.5" r="1.0" fill="#f54e32"/><circle cx="309.9" cy="364.3" r="1.0" fill="#f54e32"/><circle cx="314.3" cy="358.2" r="1.0" fill="#f54e32"/><circle cx="318.7" cy="352.5" r="1.0" fill="#f54e32"/><circle cx="323.1" cy="345.5" r="1.0" fill="#f54e32"/><circle cx="327.5" cy="334.5" r="1.0" fill="#f54e32"/><circle cx="331.9" cy="326.9" r="1.0" fill="#f54e32"/><circle cx="336.3" cy="320.9" r="1.0" fill="#f54e32"/><circle cx="340.7" cy="296.4" r="1.0" fill="#f54e32"/><circle cx="345.1" cy="279" r="1.0" fill="#f54e32"/><circle cx="349.5" cy="296.4" r="1.0" fill="#f54e32"/><circle cx="353.9" cy="331.8" r="1.0" fill="#f54e32"/><circle cx="358.3" cy="373.6" r="1.0" fill="#f54e32"/><circle cx="362.7" cy="372.7" r="1.0" fill="#f54e32"/></g>
<path d="M211.8 279.2V374.5H362.7" fill="none" stroke="#3a3a3a" stroke-width="0.8"/>
<path d="M210.2 374.5H211.8" stroke="#3a3a3a" stroke-width="0.7"/>
<text x="206.8" y="377.5" class="yt">0</text>
<path d="M210.2 348.03H211.8" stroke="#3a3a3a" stroke-width="0.7"/>
<text x="206.8" y="351.03" class="yt">0.05</text>
<path d="M210.2 321.56H211.8" stroke="#3a3a3a" stroke-width="0.7"/>
<text x="206.8" y="324.56" class="yt">0.10</text>
<path d="M210.2 295.08H211.8" stroke="#3a3a3a" stroke-width="0.7"/>
<text x="206.8" y="298.08" class="yt">0.15</text>
<path d="M215.3 374.5V376.3" stroke="#3a3a3a" stroke-width="0.7"/>
<text x="215.8" y="384.4" class="xt">10<tspan dy="-1.7" dx="-0.2" class="sup">1</tspan></text>
<path d="M267.5 374.5V376.3" stroke="#3a3a3a" stroke-width="0.7"/>
<text x="268" y="384.4" class="xt">10<tspan dy="-1.7" dx="-0.2" class="sup">2</tspan></text>
<path d="M319.7 374.5V376.3" stroke="#3a3a3a" stroke-width="0.7"/>
<text x="320.2" y="384.4" class="xt">10<tspan dy="-1.7" dx="-0.2" class="sup">3</tspan></text>
<path d="M212.91 374.5V375.5" stroke="#3a3a3a" stroke-width="0.5"/>
<path d="M231.01 374.5V375.5" stroke="#3a3a3a" stroke-width="0.5"/>
<path d="M240.21 374.5V375.5" stroke="#3a3a3a" stroke-width="0.5"/>
<path d="M246.73 374.5V375.5" stroke="#3a3a3a" stroke-width="0.5"/>
<path d="M251.79 374.5V375.5" stroke="#3a3a3a" stroke-width="0.5"/>
<path d="M255.92 374.5V375.5" stroke="#3a3a3a" stroke-width="0.5"/>
<path d="M259.41 374.5V375.5" stroke="#3a3a3a" stroke-width="0.5"/>
<path d="M262.44 374.5V375.5" stroke="#3a3a3a" stroke-width="0.5"/>
<path d="M265.11 374.5V375.5" stroke="#3a3a3a" stroke-width="0.5"/>
<path d="M283.21 374.5V375.5" stroke="#3a3a3a" stroke-width="0.5"/>
<path d="M292.41 374.5V375.5" stroke="#3a3a3a" stroke-width="0.5"/>
<path d="M298.93 374.5V375.5" stroke="#3a3a3a" stroke-width="0.5"/>
<path d="M303.99 374.5V375.5" stroke="#3a3a3a" stroke-width="0.5"/>
<path d="M308.12 374.5V375.5" stroke="#3a3a3a" stroke-width="0.5"/>
<path d="M311.61 374.5V375.5" stroke="#3a3a3a" stroke-width="0.5"/>
<path d="M314.64 374.5V375.5" stroke="#3a3a3a" stroke-width="0.5"/>
<path d="M317.31 374.5V375.5" stroke="#3a3a3a" stroke-width="0.5"/>
<path d="M335.41 374.5V375.5" stroke="#3a3a3a" stroke-width="0.5"/>
<path d="M344.61 374.5V375.5" stroke="#3a3a3a" stroke-width="0.5"/>
<path d="M351.13 374.5V375.5" stroke="#3a3a3a" stroke-width="0.5"/>
<path d="M356.19 374.5V375.5" stroke="#3a3a3a" stroke-width="0.5"/>
<path d="M360.32 374.5V375.5" stroke="#3a3a3a" stroke-width="0.5"/>
<text transform="translate(287.2,392.3) scale(0.88,1.0)" x="-24.98 -21.44 -19.31 -15.9 -12.38 -8.8 -7.47 -3.99 -2.22 0.74 2.2 5.03 8.51 10.81 13.32 17.16 22.69" y="0" class="xl" style="font-size:6.0px">granule size (µm)</text>
<text transform="translate(193.3,326.85) rotate(-90) scale(0.88,1.0)" x="-26.94 -23.83 -20.31 -18.73 -15.09 -10.04 -6.56 -4.38 -2.34 -0.2 3.12 6.53 8.75 10.26 13.73 17.46 19.76 22.22 24.68" y="0" class="yl" style="font-size:6.0px">volume fraction (-)</text>
<text transform="translate(216.1,327.6) scale(0.88,1.0)" x="0.16 4.25 6.38 10.37 12.44 14.42 17.88 19.68" y="0" class="an" style="font-size:6.0px">L/S: 0.6</text>
<text transform="translate(216.1,334.22) scale(0.88,1.0)" x="0.46 6.01 9.78 14.24 16.3 18.28 21.67 25.13 26.93 30.58 32.69 35.86 39.81 42.14" y="0" class="an" style="font-size:6.0px">MFR: 12.5 kg/h</text>
<text transform="translate(216.1,340.84) scale(0.88,1.0)" x="-0.12 3.76 6.92 8.91 12.22 16.99 18.74 21.61 24.86 27.87 31.11 34.64 36.7 38.68 42.06 45.44 49.1 51.21 53.45 57.05" y="0" class="an" style="font-size:6.0px">Screw speed: 900 rpm</text>
<rect x="214.2" y="281.2" width="70.6" height="18.3" rx="1.2" fill="#fff" fill-opacity="0.8" stroke="#e4e4e4" stroke-width="0.6"/>
<path d="M216.4 286.5H228.7" stroke="#34a0dc" stroke-width="1.4"/>
<circle cx="222.7" cy="286.5" r="0.9" fill="#34a0dc"/>
<text transform="translate(232.7,288.25) scale(0.88,1.0)" x="0.44 5.23 8.07 10.87 13.48 16.72 18.53 21.58 26.12 29.07 32.52" y="0" class="lg" style="font-size:5.4px">Measurement</text>
<path d="M216.4 294.4H228.7" stroke="#f54e32" stroke-width="1.4"/>
<circle cx="222.7" cy="294.4" r="0.9" fill="#f54e32"/>
<text transform="translate(232.7,296.15) scale(0.88,1.0)" x="0.33 4.69 9.66 13.56 15.5 18.82 23.34 27.96 29.82 33.06 34.87 37.82 41.04 42.38 45.45 47.44 48.81 51.93" y="0" class="lg" style="font-size:5.4px">KME LOO prediction</text>
<text x="272.3" y="409.1" class="cap" style="font-size:6.6px">(</text><text transform="translate(276.2,409.1) scale(1.2,1)" class="cap" style="font-size:7.25px">f</text><text x="280.1" y="409.1" class="cap" style="font-size:6.6px">)</text>
<clipPath id="cg"><rect x="27.4" y="415.8" width="152.9" height="98.3"/></clipPath>
<g clip-path="url(#cg)"><polyline points="27.4,510.9 33.1,510.9 37.5,510.9 41.9,510.9 46.3,510.9 50.7,510.9 55.1,510.9 59.5,510.9 63.9,510.9 68.3,510.9 72.7,510.9 77.1,510.9 81.5,510.9 85.9,510.9 90.3,510.9 94.7,510.9 99.1,510.9 103.5,510.9 107.9,510.9 112.3,510.9 116.7,510.5 121.1,507.8 125.5,503.1 129.9,497.6 134.3,492.3 138.7,485.9 143.1,476.8 147.5,457.7 151.9,465.9 156.3,451.4 160.7,423.2 165.1,422.3 169.5,460.5 173.9,478.6 178.3,510.5" fill="none" stroke="#34a0dc" stroke-width="1.4" stroke-linejoin="round"/>
<circle cx="27.4" cy="510.9" r="1.0" fill="#34a0dc"/><circle cx="33.1" cy="510.9" r="1.0" fill="#34a0dc"/><circle cx="37.5" cy="510.9" r="1.0" fill="#34a0dc"/><circle cx="41.9" cy="510.9" r="1.0" fill="#34a0dc"/><circle cx="46.3" cy="510.9" r="1.0" fill="#34a0dc"/><circle cx="50.7" cy="510.9" r="1.0" fill="#34a0dc"/><circle cx="55.1" cy="510.9" r="1.0" fill="#34a0dc"/><circle cx="59.5" cy="510.9" r="1.0" fill="#34a0dc"/><circle cx="63.9" cy="510.9" r="1.0" fill="#34a0dc"/><circle cx="68.3" cy="510.9" r="1.0" fill="#34a0dc"/><circle cx="72.7" cy="510.9" r="1.0" fill="#34a0dc"/><circle cx="77.1" cy="510.9" r="1.0" fill="#34a0dc"/><circle cx="81.5" cy="510.9" r="1.0" fill="#34a0dc"/><circle cx="85.9" cy="510.9" r="1.0" fill="#34a0dc"/><circle cx="90.3" cy="510.9" r="1.0" fill="#34a0dc"/><circle cx="94.7" cy="510.9" r="1.0" fill="#34a0dc"/><circle cx="99.1" cy="510.9" r="1.0" fill="#34a0dc"/><circle cx="103.5" cy="510.9" r="1.0" fill="#34a0dc"/><circle cx="107.9" cy="510.9" r="1.0" fill="#34a0dc"/><circle cx="112.3" cy="510.9" r="1.0" fill="#34a0dc"/><circle cx="116.7" cy="510.5" r="1.0" fill="#34a0dc"/><circle cx="121.1" cy="507.8" r="1.0" fill="#34a0dc"/><circle cx="125.5" cy="503.1" r="1.0" fill="#34a0dc"/><circle cx="129.9" cy="497.6" r="1.0" fill="#34a0dc"/><circle cx="134.3" cy="492.3" r="1.0" fill="#34a0dc"/><circle cx="138.7" cy="485.9" r="1.0" fill="#34a0dc"/><circle cx="143.1" cy="476.8" r="1.0" fill="#34a0dc"/><circle cx="147.5" cy="457.7" r="1.0" fill="#34a0dc"/><circle cx="151.9" cy="465.9" r="1.0" fill="#34a0dc"/><circle cx="156.3" cy="451.4" r="1.0" fill="#34a0dc"/><circle cx="160.7" cy="423.2" r="1.0" fill="#34a0dc"/><circle cx="165.1" cy="422.3" r="1.0" fill="#34a0dc"/><circle cx="169.5" cy="460.5" r="1.0" fill="#34a0dc"/><circle cx="173.9" cy="478.6" r="1.0" fill="#34a0dc"/><circle cx="178.3" cy="510.5" r="1.0" fill="#34a0dc"/></g>
<g clip-path="url(#cg)"><polyline points="27.4,503.3 33.1,507.6 37.5,510.6 41.9,510.9 46.3,510.9 50.7,510.9 55.1,510.9 59.5,510.9 63.9,510.9 68.3,510.9 72.7,510.9 77.1,510.9 81.5,510.8 85.9,510.5 90.3,510 94.7,508.9 99.1,507.1 103.5,503.7 107.9,499.6 112.3,495.5 116.7,492.1 121.1,489.8 125.5,487.7 129.9,487.8 134.3,485 138.7,483.2 143.1,480.5 147.5,480.5 151.9,467.7 156.3,454.1 160.7,464.1 165.1,450.5 169.5,484.1 173.9,489.5 178.3,504.1" fill="none" stroke="#f54e32" stroke-width="1.4" stroke-linejoin="round"/>
<circle cx="27.4" cy="503.3" r="1.0" fill="#f54e32"/><circle cx="33.1" cy="507.6" r="1.0" fill="#f54e32"/><circle cx="37.5" cy="510.6" r="1.0" fill="#f54e32"/><circle cx="41.9" cy="510.9" r="1.0" fill="#f54e32"/><circle cx="46.3" cy="510.9" r="1.0" fill="#f54e32"/><circle cx="50.7" cy="510.9" r="1.0" fill="#f54e32"/><circle cx="55.1" cy="510.9" r="1.0" fill="#f54e32"/><circle cx="59.5" cy="510.9" r="1.0" fill="#f54e32"/><circle cx="63.9" cy="510.9" r="1.0" fill="#f54e32"/><circle cx="68.3" cy="510.9" r="1.0" fill="#f54e32"/><circle cx="72.7" cy="510.9" r="1.0" fill="#f54e32"/><circle cx="77.1" cy="510.9" r="1.0" fill="#f54e32"/><circle cx="81.5" cy="510.8" r="1.0" fill="#f54e32"/><circle cx="85.9" cy="510.5" r="1.0" fill="#f54e32"/><circle cx="90.3" cy="510" r="1.0" fill="#f54e32"/><circle cx="94.7" cy="508.9" r="1.0" fill="#f54e32"/><circle cx="99.1" cy="507.1" r="1.0" fill="#f54e32"/><circle cx="103.5" cy="503.7" r="1.0" fill="#f54e32"/><circle cx="107.9" cy="499.6" r="1.0" fill="#f54e32"/><circle cx="112.3" cy="495.5" r="1.0" fill="#f54e32"/><circle cx="116.7" cy="492.1" r="1.0" fill="#f54e32"/><circle cx="121.1" cy="489.8" r="1.0" fill="#f54e32"/><circle cx="125.5" cy="487.7" r="1.0" fill="#f54e32"/><circle cx="129.9" cy="487.8" r="1.0" fill="#f54e32"/><circle cx="134.3" cy="485" r="1.0" fill="#f54e32"/><circle cx="138.7" cy="483.2" r="1.0" fill="#f54e32"/><circle cx="143.1" cy="480.5" r="1.0" fill="#f54e32"/><circle cx="147.5" cy="480.5" r="1.0" fill="#f54e32"/><circle cx="151.9" cy="467.7" r="1.0" fill="#f54e32"/><circle cx="156.3" cy="454.1" r="1.0" fill="#f54e32"/><circle cx="160.7" cy="464.1" r="1.0" fill="#f54e32"/><circle cx="165.1" cy="450.5" r="1.0" fill="#f54e32"/><circle cx="169.5" cy="484.1" r="1.0" fill="#f54e32"/><circle cx="173.9" cy="489.5" r="1.0" fill="#f54e32"/><circle cx="178.3" cy="504.1" r="1.0" fill="#f54e32"/></g>
<g clip-path="url(#cg)"><polyline points="27.4,510.8 33.1,510.8 37.5,510.8 41.9,510.8 46.3,510.8 50.7,510.8 55.1,510.8 59.5,510.8 63.9,510.8 68.3,510.8 72.7,510.8 77.1,510.8 81.5,510.8 85.9,510.8 90.3,510.8 94.7,510.8 99.1,509.2 103.5,507.8 107.9,506.4 112.3,507.5 116.7,506.7 121.1,505.8 125.5,503.9 129.9,501.5 134.3,495 138.7,487.7 143.1,479.6 147.5,468.6 151.9,456.8 156.3,446.8 160.7,438.6 165.1,439.5 169.5,451.4 173.9,469.6 178.3,505" fill="none" stroke="#737373" stroke-width="1.4" stroke-linejoin="round"/>
<circle cx="27.4" cy="510.8" r="1.0" fill="#737373"/><circle cx="33.1" cy="510.8" r="1.0" fill="#737373"/><circle cx="37.5" cy="510.8" r="1.0" fill="#737373"/><circle cx="41.9" cy="510.8" r="1.0" fill="#737373"/><circle cx="46.3" cy="510.8" r="1.0" fill="#737373"/><circle cx="50.7" cy="510.8" r="1.0" fill="#737373"/><circle cx="55.1" cy="510.8" r="1.0" fill="#737373"/><circle cx="59.5" cy="510.8" r="1.0" fill="#737373"/><circle cx="63.9" cy="510.8" r="1.0" fill="#737373"/><circle cx="68.3" cy="510.8" r="1.0" fill="#737373"/><circle cx="72.7" cy="510.8" r="1.0" fill="#737373"/><circle cx="77.1" cy="510.8" r="1.0" fill="#737373"/><circle cx="81.5" cy="510.8" r="1.0" fill="#737373"/><circle cx="85.9" cy="510.8" r="1.0" fill="#737373"/><circle cx="90.3" cy="510.8" r="1.0" fill="#737373"/><circle cx="94.7" cy="510.8" r="1.0" fill="#737373"/><circle cx="99.1" cy="509.2" r="1.0" fill="#737373"/><circle cx="103.5" cy="507.8" r="1.0" fill="#737373"/><circle cx="107.9" cy="506.4" r="1.0" fill="#737373"/><circle cx="112.3" cy="507.5" r="1.0" fill="#737373"/><circle cx="116.7" cy="506.7" r="1.0" fill="#737373"/><circle cx="121.1" cy="505.8" r="1.0" fill="#737373"/><circle cx="125.5" cy="503.9" r="1.0" fill="#737373"/><circle cx="129.9" cy="501.5" r="1.0" fill="#737373"/><circle cx="134.3" cy="495" r="1.0" fill="#737373"/><circle cx="138.7" cy="487.7" r="1.0" fill="#737373"/><circle cx="143.1" cy="479.6" r="1.0" fill="#737373"/><circle cx="147.5" cy="468.6" r="1.0" fill="#737373"/><circle cx="151.9" cy="456.8" r="1.0" fill="#737373"/><circle cx="156.3" cy="446.8" r="1.0" fill="#737373"/><circle cx="160.7" cy="438.6" r="1.0" fill="#737373"/><circle cx="165.1" cy="439.5" r="1.0" fill="#737373"/><circle cx="169.5" cy="451.4" r="1.0" fill="#737373"/><circle cx="173.9" cy="469.6" r="1.0" fill="#737373"/><circle cx="178.3" cy="505" r="1.0" fill="#737373"/></g>
<path d="M27.4 415.8V511.1H178.3" fill="none" stroke="#3a3a3a" stroke-width="0.8"/>
<path d="M25.8 511.1H27.4" stroke="#3a3a3a" stroke-width="0.7"/>
<text x="22.4" y="514.1" class="yt">0</text>
<path d="M25.8 484.63H27.4" stroke="#3a3a3a" stroke-width="0.7"/>
<text x="22.4" y="487.63" class="yt">0.05</text>
<path d="M25.8 458.16H27.4" stroke="#3a3a3a" stroke-width="0.7"/>
<text x="22.4" y="461.16" class="yt">0.10</text>
<path d="M25.8 431.68H27.4" stroke="#3a3a3a" stroke-width="0.7"/>
<text x="22.4" y="434.68" class="yt">0.15</text>
<path d="M30.9 511.1V512.9" stroke="#3a3a3a" stroke-width="0.7"/>
<text x="31.4" y="521" class="xt">10<tspan dy="-1.7" dx="-0.2" class="sup">1</tspan></text>
<path d="M83.1 511.1V512.9" stroke="#3a3a3a" stroke-width="0.7"/>
<text x="83.6" y="521" class="xt">10<tspan dy="-1.7" dx="-0.2" class="sup">2</tspan></text>
<path d="M135.3 511.1V512.9" stroke="#3a3a3a" stroke-width="0.7"/>
<text x="135.8" y="521" class="xt">10<tspan dy="-1.7" dx="-0.2" class="sup">3</tspan></text>
<path d="M28.51 511.1V512.1" stroke="#3a3a3a" stroke-width="0.5"/>
<path d="M46.61 511.1V512.1" stroke="#3a3a3a" stroke-width="0.5"/>
<path d="M55.81 511.1V512.1" stroke="#3a3a3a" stroke-width="0.5"/>
<path d="M62.33 511.1V512.1" stroke="#3a3a3a" stroke-width="0.5"/>
<path d="M67.39 511.1V512.1" stroke="#3a3a3a" stroke-width="0.5"/>
<path d="M71.52 511.1V512.1" stroke="#3a3a3a" stroke-width="0.5"/>
<path d="M75.01 511.1V512.1" stroke="#3a3a3a" stroke-width="0.5"/>
<path d="M78.04 511.1V512.1" stroke="#3a3a3a" stroke-width="0.5"/>
<path d="M80.71 511.1V512.1" stroke="#3a3a3a" stroke-width="0.5"/>
<path d="M98.81 511.1V512.1" stroke="#3a3a3a" stroke-width="0.5"/>
<path d="M108.01 511.1V512.1" stroke="#3a3a3a" stroke-width="0.5"/>
<path d="M114.53 511.1V512.1" stroke="#3a3a3a" stroke-width="0.5"/>
<path d="M119.59 511.1V512.1" stroke="#3a3a3a" stroke-width="0.5"/>
<path d="M123.72 511.1V512.1" stroke="#3a3a3a" stroke-width="0.5"/>
<path d="M127.21 511.1V512.1" stroke="#3a3a3a" stroke-width="0.5"/>
<path d="M130.24 511.1V512.1" stroke="#3a3a3a" stroke-width="0.5"/>
<path d="M132.91 511.1V512.1" stroke="#3a3a3a" stroke-width="0.5"/>
<path d="M151.01 511.1V512.1" stroke="#3a3a3a" stroke-width="0.5"/>
<path d="M160.21 511.1V512.1" stroke="#3a3a3a" stroke-width="0.5"/>
<path d="M166.73 511.1V512.1" stroke="#3a3a3a" stroke-width="0.5"/>
<path d="M171.79 511.1V512.1" stroke="#3a3a3a" stroke-width="0.5"/>
<path d="M175.92 511.1V512.1" stroke="#3a3a3a" stroke-width="0.5"/>
<text transform="translate(102.8,528.9) scale(0.88,1.0)" x="-24.98 -21.44 -19.31 -15.9 -12.38 -8.8 -7.47 -3.99 -2.22 0.74 2.2 5.03 8.51 10.81 13.32 17.16 22.69" y="0" class="xl" style="font-size:6.0px">granule size (µm)</text>
<text transform="translate(8.9,463.45) rotate(-90) scale(0.88,1.0)" x="-26.94 -23.83 -20.31 -18.73 -15.09 -10.04 -6.56 -4.38 -2.34 -0.2 3.12 6.53 8.75 10.26 13.73 17.46 19.76 22.22 24.68" y="0" class="yl" style="font-size:6.0px">volume fraction (-)</text>
<text transform="translate(31.7,464.2) scale(0.88,1.0)" x="0.16 4.25 6.38 10.37 12.44 14.42 17.88 19.68" y="0" class="an" style="font-size:6.0px">L/S: 0.6</text>
<text transform="translate(31.7,470.82) scale(0.88,1.0)" x="0.46 6.01 9.78 14.24 16.3 18.28 21.67 25.32 27.43 30.6 34.55 36.88" y="0" class="an" style="font-size:6.0px">MFR: 25 kg/h</text>
<text transform="translate(31.7,477.44) scale(0.88,1.0)" x="-0.12 3.76 6.92 8.91 12.22 16.99 18.74 21.61 24.86 27.87 31.11 34.64 36.7 38.68 42.06 45.44 49.1 51.21 53.45 57.05" y="0" class="an" style="font-size:6.0px">Screw speed: 900 rpm</text>
<rect x="29.8" y="417.8" width="70.6" height="26.3" rx="1.2" fill="#fff" fill-opacity="0.8" stroke="#e4e4e4" stroke-width="0.6"/>
<path d="M32 423.1H44.3" stroke="#34a0dc" stroke-width="1.4"/>
<circle cx="38.3" cy="423.1" r="0.9" fill="#34a0dc"/>
<text transform="translate(48.3,424.85) scale(0.88,1.0)" x="0.44 5.23 8.07 10.87 13.48 16.72 18.53 21.58 26.12 29.07 32.52" y="0" class="lg" style="font-size:5.4px">Measurement</text>
<path d="M32 431H44.3" stroke="#f54e32" stroke-width="1.4"/>
<circle cx="38.3" cy="431" r="0.9" fill="#f54e32"/>
<text transform="translate(48.3,432.75) scale(0.88,1.0)" x="0.33 4.69 9.66 13.56 15.5 18.82 23.34 27.96 29.82 33.06 34.87 37.82 41.04 42.38 45.45 47.44 48.81 51.93" y="0" class="lg" style="font-size:5.4px">KME LOO prediction</text>
<path d="M32 438.9H44.3" stroke="#737373" stroke-width="1.4"/>
<circle cx="38.3" cy="438.9" r="0.9" fill="#737373"/>
<text transform="translate(48.3,440.65) scale(0.88,1.0)" x="0.16 4.17 8.45 13.65 15.44 18.13 21.24 22.7 24.12 27.36 29.28 32.62 34.61 35.97 39.09" y="0" class="lg" style="font-size:5.4px">PBM calibration</text>
<text x="87.9" y="545.7" class="cap" style="font-size:6.6px">(</text><text transform="translate(91.8,545.7) scale(1.2,1)" class="cap" style="font-size:7.25px">g</text><text x="95.7" y="545.7" class="cap" style="font-size:6.6px">)</text>
<clipPath id="ch"><rect x="211.8" y="415.8" width="152.9" height="98.3"/></clipPath>
<g clip-path="url(#ch)"><polyline points="211.8,510.9 217.5,510.9 221.9,510.9 226.3,510.9 230.7,510.9 235.1,510.9 239.5,510.9 243.9,510.9 248.3,510.9 252.7,510.9 257.1,510.9 261.5,510.9 265.9,510.9 270.3,510.9 274.7,510.9 279.1,510.5 283.5,509.5 287.9,508.3 292.3,506.7 296.7,504.4 301.1,501 305.5,497.6 309.9,493.5 314.3,488.7 318.7,485.3 323.1,482.3 327.5,477.7 331.9,470.5 336.3,454.1 340.7,442.3 345.1,446.8 349.5,428.6 353.9,481.4 358.3,487.7 362.7,510.5" fill="none" stroke="#34a0dc" stroke-width="1.4" stroke-linejoin="round"/>
<circle cx="211.8" cy="510.9" r="1.0" fill="#34a0dc"/><circle cx="217.5" cy="510.9" r="1.0" fill="#34a0dc"/><circle cx="221.9" cy="510.9" r="1.0" fill="#34a0dc"/><circle cx="226.3" cy="510.9" r="1.0" fill="#34a0dc"/><circle cx="230.7" cy="510.9" r="1.0" fill="#34a0dc"/><circle cx="235.1" cy="510.9" r="1.0" fill="#34a0dc"/><circle cx="239.5" cy="510.9" r="1.0" fill="#34a0dc"/><circle cx="243.9" cy="510.9" r="1.0" fill="#34a0dc"/><circle cx="248.3" cy="510.9" r="1.0" fill="#34a0dc"/><circle cx="252.7" cy="510.9" r="1.0" fill="#34a0dc"/><circle cx="257.1" cy="510.9" r="1.0" fill="#34a0dc"/><circle cx="261.5" cy="510.9" r="1.0" fill="#34a0dc"/><circle cx="265.9" cy="510.9" r="1.0" fill="#34a0dc"/><circle cx="270.3" cy="510.9" r="1.0" fill="#34a0dc"/><circle cx="274.7" cy="510.9" r="1.0" fill="#34a0dc"/><circle cx="279.1" cy="510.5" r="1.0" fill="#34a0dc"/><circle cx="283.5" cy="509.5" r="1.0" fill="#34a0dc"/><circle cx="287.9" cy="508.3" r="1.0" fill="#34a0dc"/><circle cx="292.3" cy="506.7" r="1.0" fill="#34a0dc"/><circle cx="296.7" cy="504.4" r="1.0" fill="#34a0dc"/><circle cx="301.1" cy="501" r="1.0" fill="#34a0dc"/><circle cx="305.5" cy="497.6" r="1.0" fill="#34a0dc"/><circle cx="309.9" cy="493.5" r="1.0" fill="#34a0dc"/><circle cx="314.3" cy="488.7" r="1.0" fill="#34a0dc"/><circle cx="318.7" cy="485.3" r="1.0" fill="#34a0dc"/><circle cx="323.1" cy="482.3" r="1.0" fill="#34a0dc"/><circle cx="327.5" cy="477.7" r="1.0" fill="#34a0dc"/><circle cx="331.9" cy="470.5" r="1.0" fill="#34a0dc"/><circle cx="336.3" cy="454.1" r="1.0" fill="#34a0dc"/><circle cx="340.7" cy="442.3" r="1.0" fill="#34a0dc"/><circle cx="345.1" cy="446.8" r="1.0" fill="#34a0dc"/><circle cx="349.5" cy="428.6" r="1.0" fill="#34a0dc"/><circle cx="353.9" cy="481.4" r="1.0" fill="#34a0dc"/><circle cx="358.3" cy="487.7" r="1.0" fill="#34a0dc"/><circle cx="362.7" cy="510.5" r="1.0" fill="#34a0dc"/></g>
<g clip-path="url(#ch)"><polyline points="211.8,510.9 217.5,510.9 221.9,510.9 226.3,510.9 230.7,510.9 235.1,510.9 239.5,510.9 243.9,510.9 248.3,510.9 252.7,510.9 257.1,510.9 261.5,510.9 265.9,510.9 270.3,510.9 274.7,510.9 279.1,510.5 283.5,509.5 287.9,508.5 292.3,507.1 296.7,505.1 301.1,503.4 305.5,501 309.9,498.2 314.3,494.1 318.7,491.1 323.1,486.8 327.5,481.4 331.9,472.3 336.3,466.8 340.7,454.1 345.1,447.7 349.5,433.2 353.9,460.5 358.3,445.9 362.7,510.5" fill="none" stroke="#f54e32" stroke-width="1.4" stroke-linejoin="round"/>
<circle cx="211.8" cy="510.9" r="1.0" fill="#f54e32"/><circle cx="217.5" cy="510.9" r="1.0" fill="#f54e32"/><circle cx="221.9" cy="510.9" r="1.0" fill="#f54e32"/><circle cx="226.3" cy="510.9" r="1.0" fill="#f54e32"/><circle cx="230.7" cy="510.9" r="1.0" fill="#f54e32"/><circle cx="235.1" cy="510.9" r="1.0" fill="#f54e32"/><circle cx="239.5" cy="510.9" r="1.0" fill="#f54e32"/><circle cx="243.9" cy="510.9" r="1.0" fill="#f54e32"/><circle cx="248.3" cy="510.9" r="1.0" fill="#f54e32"/><circle cx="252.7" cy="510.9" r="1.0" fill="#f54e32"/><circle cx="257.1" cy="510.9" r="1.0" fill="#f54e32"/><circle cx="261.5" cy="510.9" r="1.0" fill="#f54e32"/><circle cx="265.9" cy="510.9" r="1.0" fill="#f54e32"/><circle cx="270.3" cy="510.9" r="1.0" fill="#f54e32"/><circle cx="274.7" cy="510.9" r="1.0" fill="#f54e32"/><circle cx="279.1" cy="510.5" r="1.0" fill="#f54e32"/><circle cx="283.5" cy="509.5" r="1.0" fill="#f54e32"/><circle cx="287.9" cy="508.5" r="1.0" fill="#f54e32"/><circle cx="292.3" cy="507.1" r="1.0" fill="#f54e32"/><circle cx="296.7" cy="505.1" r="1.0" fill="#f54e32"/><circle cx="301.1" cy="503.4" r="1.0" fill="#f54e32"/><circle cx="305.5" cy="501" r="1.0" fill="#f54e32"/><circle cx="309.9" cy="498.2" r="1.0" fill="#f54e32"/><circle cx="314.3" cy="494.1" r="1.0" fill="#f54e32"/><circle cx="318.7" cy="491.1" r="1.0" fill="#f54e32"/><circle cx="323.1" cy="486.8" r="1.0" fill="#f54e32"/><circle cx="327.5" cy="481.4" r="1.0" fill="#f54e32"/><circle cx="331.9" cy="472.3" r="1.0" fill="#f54e32"/><circle cx="336.3" cy="466.8" r="1.0" fill="#f54e32"/><circle cx="340.7" cy="454.1" r="1.0" fill="#f54e32"/><circle cx="345.1" cy="447.7" r="1.0" fill="#f54e32"/><circle cx="349.5" cy="433.2" r="1.0" fill="#f54e32"/><circle cx="353.9" cy="460.5" r="1.0" fill="#f54e32"/><circle cx="358.3" cy="445.9" r="1.0" fill="#f54e32"/><circle cx="362.7" cy="510.5" r="1.0" fill="#f54e32"/></g>
<path d="M211.8 415.8V511.1H362.7" fill="none" stroke="#3a3a3a" stroke-width="0.8"/>
<path d="M210.2 511.1H211.8" stroke="#3a3a3a" stroke-width="0.7"/>
<text x="206.8" y="514.1" class="yt">0</text>
<path d="M210.2 484.63H211.8" stroke="#3a3a3a" stroke-width="0.7"/>
<text x="206.8" y="487.63" class="yt">0.05</text>
<path d="M210.2 458.16H211.8" stroke="#3a3a3a" stroke-width="0.7"/>
<text x="206.8" y="461.16" class="yt">0.10</text>
<path d="M210.2 431.68H211.8" stroke="#3a3a3a" stroke-width="0.7"/>
<text x="206.8" y="434.68" class="yt">0.15</text>
<path d="M215.3 511.1V512.9" stroke="#3a3a3a" stroke-width="0.7"/>
<text x="215.8" y="521" class="xt">10<tspan dy="-1.7" dx="-0.2" class="sup">1</tspan></text>
<path d="M267.5 511.1V512.9" stroke="#3a3a3a" stroke-width="0.7"/>
<text x="268" y="521" class="xt">10<tspan dy="-1.7" dx="-0.2" class="sup">2</tspan></text>
<path d="M319.7 511.1V512.9" stroke="#3a3a3a" stroke-width="0.7"/>
<text x="320.2" y="521" class="xt">10<tspan dy="-1.7" dx="-0.2" class="sup">3</tspan></text>
<path d="M212.91 511.1V512.1" stroke="#3a3a3a" stroke-width="0.5"/>
<path d="M231.01 511.1V512.1" stroke="#3a3a3a" stroke-width="0.5"/>
<path d="M240.21 511.1V512.1" stroke="#3a3a3a" stroke-width="0.5"/>
<path d="M246.73 511.1V512.1" stroke="#3a3a3a" stroke-width="0.5"/>
<path d="M251.79 511.1V512.1" stroke="#3a3a3a" stroke-width="0.5"/>
<path d="M255.92 511.1V512.1" stroke="#3a3a3a" stroke-width="0.5"/>
<path d="M259.41 511.1V512.1" stroke="#3a3a3a" stroke-width="0.5"/>
<path d="M262.44 511.1V512.1" stroke="#3a3a3a" stroke-width="0.5"/>
<path d="M265.11 511.1V512.1" stroke="#3a3a3a" stroke-width="0.5"/>
<path d="M283.21 511.1V512.1" stroke="#3a3a3a" stroke-width="0.5"/>
<path d="M292.41 511.1V512.1" stroke="#3a3a3a" stroke-width="0.5"/>
<path d="M298.93 511.1V512.1" stroke="#3a3a3a" stroke-width="0.5"/>
<path d="M303.99 511.1V512.1" stroke="#3a3a3a" stroke-width="0.5"/>
<path d="M308.12 511.1V512.1" stroke="#3a3a3a" stroke-width="0.5"/>
<path d="M311.61 511.1V512.1" stroke="#3a3a3a" stroke-width="0.5"/>
<path d="M314.64 511.1V512.1" stroke="#3a3a3a" stroke-width="0.5"/>
<path d="M317.31 511.1V512.1" stroke="#3a3a3a" stroke-width="0.5"/>
<path d="M335.41 511.1V512.1" stroke="#3a3a3a" stroke-width="0.5"/>
<path d="M344.61 511.1V512.1" stroke="#3a3a3a" stroke-width="0.5"/>
<path d="M351.13 511.1V512.1" stroke="#3a3a3a" stroke-width="0.5"/>
<path d="M356.19 511.1V512.1" stroke="#3a3a3a" stroke-width="0.5"/>
<path d="M360.32 511.1V512.1" stroke="#3a3a3a" stroke-width="0.5"/>
<text transform="translate(287.2,528.9) scale(0.88,1.0)" x="-24.98 -21.44 -19.31 -15.9 -12.38 -8.8 -7.47 -3.99 -2.22 0.74 2.2 5.03 8.51 10.81 13.32 17.16 22.69" y="0" class="xl" style="font-size:6.0px">granule size (µm)</text>
<text transform="translate(193.3,463.45) rotate(-90) scale(0.88,1.0)" x="-26.94 -23.83 -20.31 -18.73 -15.09 -10.04 -6.56 -4.38 -2.34 -0.2 3.12 6.53 8.75 10.26 13.73 17.46 19.76 22.22 24.68" y="0" class="yl" style="font-size:6.0px">volume fraction (-)</text>
<text transform="translate(216.1,464.2) scale(0.88,1.0)" x="0.16 4.25 6.38 10.37 12.44 14.42 17.88 19.68" y="0" class="an" style="font-size:6.0px">L/S: 0.6</text>
<text transform="translate(216.1,470.82) scale(0.88,1.0)" x="0.46 6.01 9.78 14.24 16.3 18.28 21.67 25.32 27.43 30.6 34.55 36.88" y="0" class="an" style="font-size:6.0px">MFR: 25 kg/h</text>
<text transform="translate(216.1,477.44) scale(0.88,1.0)" x="-0.12 3.76 6.92 8.91 12.22 16.99 18.74 21.61 24.86 27.87 31.11 34.64 36.7 38.68 42.06 45.44 49.1 51.21 53.45 57.05" y="0" class="an" style="font-size:6.0px">Screw speed: 675 rpm</text>
<rect x="214.2" y="417.8" width="70.6" height="18.3" rx="1.2" fill="#fff" fill-opacity="0.8" stroke="#e4e4e4" stroke-width="0.6"/>
<path d="M216.4 423.1H228.7" stroke="#34a0dc" stroke-width="1.4"/>
<circle cx="222.7" cy="423.1" r="0.9" fill="#34a0dc"/>
<text transform="translate(232.7,424.85) scale(0.88,1.0)" x="0.44 5.23 8.07 10.87 13.48 16.72 18.53 21.58 26.12 29.07 32.52" y="0" class="lg" style="font-size:5.4px">Measurement</text>
<path d="M216.4 431H228.7" stroke="#f54e32" stroke-width="1.4"/>
<circle cx="222.7" cy="431" r="0.9" fill="#f54e32"/>
<text transform="translate(232.7,432.75) scale(0.88,1.0)" x="0.33 4.69 9.66 13.56 15.5 18.82 23.34 27.96 29.82 33.06 34.87 37.82 41.04 42.38 45.45 47.44 48.81 51.93" y="0" class="lg" style="font-size:5.4px">KME LOO prediction</text>
<text x="272.3" y="545.7" class="cap" style="font-size:6.6px">(</text><text transform="translate(276.2,545.7) scale(1.2,1)" class="cap" style="font-size:7.25px">h</text><text x="280.1" y="545.7" class="cap" style="font-size:6.6px">)</text>
</svg></body></html>
